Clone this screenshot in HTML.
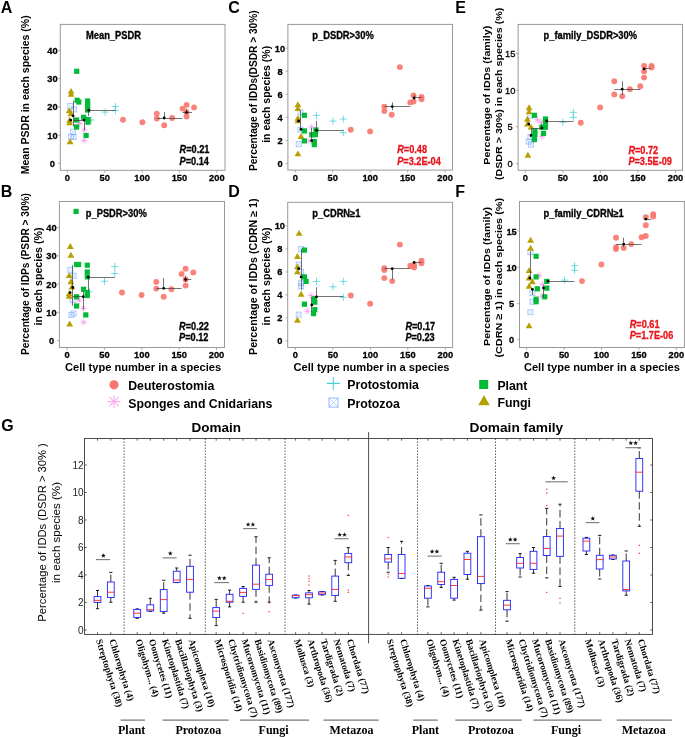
<!DOCTYPE html><html><head><meta charset="utf-8"><style>html,body{margin:0;padding:0;background:#fff;}svg{display:block}</style></head><body>
<svg width="685" height="737" viewBox="0 0 685 737" style="filter:blur(0.3px)">
<rect width="685" height="737" fill="#fff"/>
<text x="0.80" y="12.60" font-family='"Liberation Sans", sans-serif' font-size="16" font-weight="bold" font-style="normal" text-anchor="start" fill="#000">A</text>
<text x="0.80" y="196.80" font-family='"Liberation Sans", sans-serif' font-size="16" font-weight="bold" font-style="normal" text-anchor="start" fill="#000">B</text>
<text x="228.20" y="12.60" font-family='"Liberation Sans", sans-serif' font-size="16" font-weight="bold" font-style="normal" text-anchor="start" fill="#000">C</text>
<text x="228.20" y="196.80" font-family='"Liberation Sans", sans-serif' font-size="16" font-weight="bold" font-style="normal" text-anchor="start" fill="#000">D</text>
<text x="455.20" y="12.60" font-family='"Liberation Sans", sans-serif' font-size="16" font-weight="bold" font-style="normal" text-anchor="start" fill="#000">E</text>
<text x="455.20" y="196.80" font-family='"Liberation Sans", sans-serif' font-size="16" font-weight="bold" font-style="normal" text-anchor="start" fill="#000">F</text>
<text x="1.20" y="431.20" font-family='"Liberation Sans", sans-serif' font-size="16" font-weight="bold" font-style="normal" text-anchor="start" fill="#000">G</text>
<rect x="60.30" y="24.40" width="164.70" height="145.90" fill="none" stroke="#999" stroke-width="1"/>
<line x1="67.40" y1="170.30" x2="67.40" y2="172.80" stroke="#999" stroke-width="0.8"/>
<line x1="104.75" y1="170.30" x2="104.75" y2="172.80" stroke="#999" stroke-width="0.8"/>
<line x1="142.10" y1="170.30" x2="142.10" y2="172.80" stroke="#999" stroke-width="0.8"/>
<line x1="179.45" y1="170.30" x2="179.45" y2="172.80" stroke="#999" stroke-width="0.8"/>
<line x1="216.80" y1="170.30" x2="216.80" y2="172.80" stroke="#999" stroke-width="0.8"/>
<line x1="58.10" y1="163.40" x2="60.30" y2="163.40" stroke="#999" stroke-width="0.8"/>
<line x1="58.10" y1="135.15" x2="60.30" y2="135.15" stroke="#999" stroke-width="0.8"/>
<line x1="58.10" y1="106.90" x2="60.30" y2="106.90" stroke="#999" stroke-width="0.8"/>
<line x1="58.10" y1="78.65" x2="60.30" y2="78.65" stroke="#999" stroke-width="0.8"/>
<line x1="58.10" y1="50.40" x2="60.30" y2="50.40" stroke="#999" stroke-width="0.8"/>
<text transform="translate(52.40,166.90) scale(0.95,1)" font-family='"Liberation Sans", sans-serif' font-size="9.8" font-weight="bold" font-style="normal" text-anchor="middle" fill="#000" stroke="#000" stroke-width="0.3">0</text>
<text transform="translate(52.40,138.65) scale(0.95,1)" font-family='"Liberation Sans", sans-serif' font-size="9.8" font-weight="bold" font-style="normal" text-anchor="middle" fill="#000" stroke="#000" stroke-width="0.3">10</text>
<text transform="translate(52.40,110.40) scale(0.95,1)" font-family='"Liberation Sans", sans-serif' font-size="9.8" font-weight="bold" font-style="normal" text-anchor="middle" fill="#000" stroke="#000" stroke-width="0.3">20</text>
<text transform="translate(52.40,82.15) scale(0.95,1)" font-family='"Liberation Sans", sans-serif' font-size="9.8" font-weight="bold" font-style="normal" text-anchor="middle" fill="#000" stroke="#000" stroke-width="0.3">30</text>
<text transform="translate(52.40,53.90) scale(0.95,1)" font-family='"Liberation Sans", sans-serif' font-size="9.8" font-weight="bold" font-style="normal" text-anchor="middle" fill="#000" stroke="#000" stroke-width="0.3">40</text>
<text transform="translate(67.40,181.30) scale(0.95,1)" font-family='"Liberation Sans", sans-serif' font-size="9.8" font-weight="bold" font-style="normal" text-anchor="middle" fill="#000" stroke="#000" stroke-width="0.3">0</text>
<text transform="translate(104.75,181.30) scale(0.95,1)" font-family='"Liberation Sans", sans-serif' font-size="9.8" font-weight="bold" font-style="normal" text-anchor="middle" fill="#000" stroke="#000" stroke-width="0.3">50</text>
<text transform="translate(142.10,181.30) scale(0.95,1)" font-family='"Liberation Sans", sans-serif' font-size="9.8" font-weight="bold" font-style="normal" text-anchor="middle" fill="#000" stroke="#000" stroke-width="0.3">100</text>
<text transform="translate(179.45,181.30) scale(0.95,1)" font-family='"Liberation Sans", sans-serif' font-size="9.8" font-weight="bold" font-style="normal" text-anchor="middle" fill="#000" stroke="#000" stroke-width="0.3">150</text>
<text transform="translate(216.80,181.30) scale(0.95,1)" font-family='"Liberation Sans", sans-serif' font-size="9.8" font-weight="bold" font-style="normal" text-anchor="middle" fill="#000" stroke="#000" stroke-width="0.3">200</text>
<text transform="translate(86.00,38.80) scale(0.934,1)" font-family='"Liberation Sans", sans-serif' font-size="10" font-weight="bold" font-style="normal" text-anchor="start" fill="#000" stroke="#000" stroke-width="0.3">Mean_PSDR</text>
<g stroke="#619CFF" stroke-opacity="0.55" fill="none" stroke-width="0.9"><rect x="67.80" y="103.50" width="5.0" height="5.0"/><path d="M67.80,103.50L72.80,108.50M72.80,103.50L67.80,108.50" stroke-width="0.54"/></g>
<g stroke="#619CFF" stroke-opacity="0.55" fill="none" stroke-width="0.9"><rect x="71.50" y="107.00" width="5.0" height="5.0"/><path d="M71.50,107.00L76.50,112.00M76.50,107.00L71.50,112.00" stroke-width="0.54"/></g>
<g stroke="#619CFF" stroke-opacity="0.55" fill="none" stroke-width="0.9"><rect x="70.60" y="129.30" width="5.0" height="5.0"/><path d="M70.60,129.30L75.60,134.30M75.60,129.30L70.60,134.30" stroke-width="0.54"/></g>
<g stroke="#619CFF" stroke-opacity="0.55" fill="none" stroke-width="0.9"><rect x="68.50" y="134.10" width="5.0" height="5.0"/><path d="M68.50,134.10L73.50,139.10M73.50,134.10L68.50,139.10" stroke-width="0.54"/></g>
<g stroke="#619CFF" stroke-opacity="0.55" fill="none" stroke-width="0.9"><rect x="71.10" y="134.50" width="5.0" height="5.0"/><path d="M71.10,134.50L76.10,139.50M76.10,134.50L71.10,139.50" stroke-width="0.54"/></g>
<path d="M101.50,112.10H108.70M105.10,108.50V115.70" stroke="#00BFC4" stroke-opacity="0.6" stroke-width="0.9" fill="none"/>
<path d="M111.80,106.40H119.00M115.40,102.80V110.00" stroke="#00BFC4" stroke-opacity="0.6" stroke-width="0.9" fill="none"/>
<path d="M111.80,110.60H119.00M115.40,107.00V114.20" stroke="#00BFC4" stroke-opacity="0.6" stroke-width="0.9" fill="none"/>
<path d="M87.50,120.00H94.70M91.10,116.40V123.60" stroke="#00BFC4" stroke-opacity="0.6" stroke-width="0.9" fill="none"/>
<path d="M76.30,123.50H83.10M79.70,120.10V126.90M77.25,121.05L82.15,125.95M82.15,121.05L77.25,125.95" stroke="#F564E3" stroke-opacity="0.55" stroke-width="0.8" fill="none"/>
<path d="M80.70,130.00H87.50M84.10,126.60V133.40M81.65,127.55L86.55,132.45M86.55,127.55L81.65,132.45" stroke="#F564E3" stroke-opacity="0.55" stroke-width="0.8" fill="none"/>
<path d="M80.70,140.50H87.50M84.10,137.10V143.90M81.65,138.05L86.55,142.95M86.55,138.05L81.65,142.95" stroke="#F564E3" stroke-opacity="0.55" stroke-width="0.8" fill="none"/>
<path d="M71.10,87.95 L74.50,93.87 L67.70,93.87 Z" fill="#B79F00"/>
<path d="M71.10,90.95 L74.50,96.87 L67.70,96.87 Z" fill="#B79F00"/>
<path d="M69.20,107.25 L72.60,113.17 L65.80,113.17 Z" fill="#B79F00"/>
<path d="M71.00,110.25 L74.40,116.17 L67.60,116.17 Z" fill="#B79F00"/>
<path d="M69.60,116.85 L73.00,122.77 L66.20,122.77 Z" fill="#B79F00"/>
<path d="M69.60,119.45 L73.00,125.37 L66.20,125.37 Z" fill="#B79F00"/>
<path d="M70.10,138.35 L73.50,144.27 L66.70,144.27 Z" fill="#B79F00"/>
<rect x="74.10" y="68.70" width="5.2" height="5.2" fill="#00BA38"/>
<rect x="74.50" y="97.70" width="5.2" height="5.2" fill="#00BA38"/>
<rect x="76.20" y="99.40" width="5.2" height="5.2" fill="#00BA38"/>
<rect x="85.00" y="98.40" width="5.2" height="5.2" fill="#00BA38"/>
<rect x="85.00" y="101.40" width="5.2" height="5.2" fill="#00BA38"/>
<rect x="85.00" y="104.40" width="5.2" height="5.2" fill="#00BA38"/>
<rect x="85.00" y="107.40" width="5.2" height="5.2" fill="#00BA38"/>
<rect x="74.00" y="117.40" width="5.2" height="5.2" fill="#00BA38"/>
<rect x="74.00" y="124.40" width="5.2" height="5.2" fill="#00BA38"/>
<rect x="81.10" y="114.70" width="5.2" height="5.2" fill="#00BA38"/>
<rect x="85.40" y="116.90" width="5.2" height="5.2" fill="#00BA38"/>
<rect x="85.40" y="119.60" width="5.2" height="5.2" fill="#00BA38"/>
<rect x="83.50" y="132.90" width="5.2" height="5.2" fill="#00BA38"/>
<circle cx="123.00" cy="119.80" r="2.95" fill="#F8766D" fill-opacity="0.9"/>
<circle cx="142.40" cy="122.20" r="2.95" fill="#F8766D" fill-opacity="0.9"/>
<circle cx="156.80" cy="113.60" r="2.95" fill="#F8766D" fill-opacity="0.9"/>
<circle cx="156.80" cy="118.50" r="2.95" fill="#F8766D" fill-opacity="0.9"/>
<circle cx="164.20" cy="125.20" r="2.95" fill="#F8766D" fill-opacity="0.9"/>
<circle cx="172.20" cy="118.00" r="2.95" fill="#F8766D" fill-opacity="0.9"/>
<circle cx="182.60" cy="108.60" r="2.95" fill="#F8766D" fill-opacity="0.9"/>
<circle cx="186.60" cy="104.90" r="2.95" fill="#F8766D" fill-opacity="0.9"/>
<circle cx="186.60" cy="116.50" r="2.95" fill="#F8766D" fill-opacity="0.9"/>
<circle cx="194.00" cy="107.40" r="2.95" fill="#F8766D" fill-opacity="0.9"/>
<circle cx="186.60" cy="112.30" r="2.95" fill="#F8766D" fill-opacity="0.9"/>
<line x1="88.80" y1="110.50" x2="115.40" y2="110.50" stroke="#444" stroke-width="0.75"/>
<line x1="88.50" y1="110.20" x2="88.50" y2="116.00" stroke="#444" stroke-width="0.75"/>
<line x1="73.50" y1="100.70" x2="73.50" y2="126.50" stroke="#444" stroke-width="0.75"/>
<line x1="73.00" y1="120.50" x2="84.10" y2="120.50" stroke="#444" stroke-width="0.75"/>
<line x1="84.50" y1="120.10" x2="84.50" y2="130.00" stroke="#444" stroke-width="0.75"/>
<line x1="156.80" y1="118.50" x2="182.60" y2="118.50" stroke="#444" stroke-width="0.75"/>
<line x1="164.50" y1="112.30" x2="164.50" y2="118.00" stroke="#444" stroke-width="0.75"/>
<line x1="182.60" y1="112.50" x2="192.00" y2="112.50" stroke="#444" stroke-width="0.75"/>
<line x1="186.50" y1="108.80" x2="186.50" y2="114.00" stroke="#444" stroke-width="0.75"/>
<circle cx="88.80" cy="110.20" r="1.4" fill="#000"/>
<circle cx="73.10" cy="115.80" r="1.4" fill="#000"/>
<circle cx="70.70" cy="120.10" r="1.4" fill="#000"/>
<circle cx="84.10" cy="120.10" r="1.4" fill="#000"/>
<circle cx="164.20" cy="118.00" r="1.4" fill="#000"/>
<circle cx="186.60" cy="112.30" r="1.4" fill="#000"/>
<text transform="translate(179.60,153.00) scale(0.9,1)" font-family='"Liberation Sans", sans-serif' font-size="10.2" font-weight="bold" font-style="normal" text-anchor="start" fill="#000" stroke="#000" stroke-width="0.3"><tspan font-style="italic">R</tspan>=0.21</text>
<text transform="translate(179.60,164.60) scale(0.9,1)" font-family='"Liberation Sans", sans-serif' font-size="10.2" font-weight="bold" font-style="normal" text-anchor="start" fill="#000" stroke="#000" stroke-width="0.3"><tspan font-style="italic">P</tspan>=0.14</text>
<text transform="translate(29.40,94.80) rotate(-90)" font-family='"Liberation Sans", sans-serif' font-size="10.5" font-weight="bold" text-anchor="middle" fill="#000" textLength="159" lengthAdjust="spacingAndGlyphs">Mean PSDR in each species (%)</text>
<rect x="59.40" y="201.50" width="165.10" height="146.00" fill="none" stroke="#999" stroke-width="1"/>
<line x1="67.10" y1="347.50" x2="67.10" y2="350.00" stroke="#999" stroke-width="0.8"/>
<line x1="104.45" y1="347.50" x2="104.45" y2="350.00" stroke="#999" stroke-width="0.8"/>
<line x1="141.80" y1="347.50" x2="141.80" y2="350.00" stroke="#999" stroke-width="0.8"/>
<line x1="179.15" y1="347.50" x2="179.15" y2="350.00" stroke="#999" stroke-width="0.8"/>
<line x1="216.50" y1="347.50" x2="216.50" y2="350.00" stroke="#999" stroke-width="0.8"/>
<line x1="57.20" y1="340.70" x2="59.40" y2="340.70" stroke="#999" stroke-width="0.8"/>
<line x1="57.20" y1="312.40" x2="59.40" y2="312.40" stroke="#999" stroke-width="0.8"/>
<line x1="57.20" y1="284.10" x2="59.40" y2="284.10" stroke="#999" stroke-width="0.8"/>
<line x1="57.20" y1="255.80" x2="59.40" y2="255.80" stroke="#999" stroke-width="0.8"/>
<line x1="57.20" y1="227.50" x2="59.40" y2="227.50" stroke="#999" stroke-width="0.8"/>
<text transform="translate(51.50,344.20) scale(0.95,1)" font-family='"Liberation Sans", sans-serif' font-size="9.8" font-weight="bold" font-style="normal" text-anchor="middle" fill="#000" stroke="#000" stroke-width="0.3">0</text>
<text transform="translate(51.50,315.90) scale(0.95,1)" font-family='"Liberation Sans", sans-serif' font-size="9.8" font-weight="bold" font-style="normal" text-anchor="middle" fill="#000" stroke="#000" stroke-width="0.3">10</text>
<text transform="translate(51.50,287.60) scale(0.95,1)" font-family='"Liberation Sans", sans-serif' font-size="9.8" font-weight="bold" font-style="normal" text-anchor="middle" fill="#000" stroke="#000" stroke-width="0.3">20</text>
<text transform="translate(51.50,259.30) scale(0.95,1)" font-family='"Liberation Sans", sans-serif' font-size="9.8" font-weight="bold" font-style="normal" text-anchor="middle" fill="#000" stroke="#000" stroke-width="0.3">30</text>
<text transform="translate(51.50,231.00) scale(0.95,1)" font-family='"Liberation Sans", sans-serif' font-size="9.8" font-weight="bold" font-style="normal" text-anchor="middle" fill="#000" stroke="#000" stroke-width="0.3">40</text>
<text transform="translate(67.10,358.30) scale(0.95,1)" font-family='"Liberation Sans", sans-serif' font-size="9.8" font-weight="bold" font-style="normal" text-anchor="middle" fill="#000" stroke="#000" stroke-width="0.3">0</text>
<text transform="translate(104.45,358.30) scale(0.95,1)" font-family='"Liberation Sans", sans-serif' font-size="9.8" font-weight="bold" font-style="normal" text-anchor="middle" fill="#000" stroke="#000" stroke-width="0.3">50</text>
<text transform="translate(141.80,358.30) scale(0.95,1)" font-family='"Liberation Sans", sans-serif' font-size="9.8" font-weight="bold" font-style="normal" text-anchor="middle" fill="#000" stroke="#000" stroke-width="0.3">100</text>
<text transform="translate(179.15,358.30) scale(0.95,1)" font-family='"Liberation Sans", sans-serif' font-size="9.8" font-weight="bold" font-style="normal" text-anchor="middle" fill="#000" stroke="#000" stroke-width="0.3">150</text>
<text transform="translate(216.50,358.30) scale(0.95,1)" font-family='"Liberation Sans", sans-serif' font-size="9.8" font-weight="bold" font-style="normal" text-anchor="middle" fill="#000" stroke="#000" stroke-width="0.3">200</text>
<rect x="73.50" y="208.80" width="5.2" height="5.2" fill="#00BA38"/>
<text transform="translate(85.80,216.60) scale(0.934,1)" font-family='"Liberation Sans", sans-serif' font-size="10" font-weight="bold" font-style="normal" text-anchor="start" fill="#000" stroke="#000" stroke-width="0.3">p_PSDR&gt;30%</text>
<g stroke="#619CFF" stroke-opacity="0.55" fill="none" stroke-width="0.9"><rect x="67.80" y="267.30" width="5.0" height="5.0"/><path d="M67.80,267.30L72.80,272.30M72.80,267.30L67.80,272.30" stroke-width="0.54"/></g>
<g stroke="#619CFF" stroke-opacity="0.55" fill="none" stroke-width="0.9"><rect x="71.10" y="273.30" width="5.0" height="5.0"/><path d="M71.10,273.30L76.10,278.30M76.10,273.30L71.10,278.30" stroke-width="0.54"/></g>
<g stroke="#619CFF" stroke-opacity="0.55" fill="none" stroke-width="0.9"><rect x="70.30" y="297.70" width="5.0" height="5.0"/><path d="M70.30,297.70L75.30,302.70M75.30,297.70L70.30,302.70" stroke-width="0.54"/></g>
<g stroke="#619CFF" stroke-opacity="0.55" fill="none" stroke-width="0.9"><rect x="68.90" y="312.40" width="5.0" height="5.0"/><path d="M68.90,312.40L73.90,317.40M73.90,312.40L68.90,317.40" stroke-width="0.54"/></g>
<g stroke="#619CFF" stroke-opacity="0.55" fill="none" stroke-width="0.9"><rect x="71.10" y="311.00" width="5.0" height="5.0"/><path d="M71.10,311.00L76.10,316.00M76.10,311.00L71.10,316.00" stroke-width="0.54"/></g>
<path d="M111.20,266.60H118.40M114.80,263.00V270.20" stroke="#00BFC4" stroke-opacity="0.6" stroke-width="0.9" fill="none"/>
<path d="M111.20,273.60H118.40M114.80,270.00V277.20" stroke="#00BFC4" stroke-opacity="0.6" stroke-width="0.9" fill="none"/>
<path d="M100.90,281.20H108.10M104.50,277.60V284.80" stroke="#00BFC4" stroke-opacity="0.6" stroke-width="0.9" fill="none"/>
<path d="M85.70,291.90H92.90M89.30,288.30V295.50" stroke="#00BFC4" stroke-opacity="0.6" stroke-width="0.9" fill="none"/>
<path d="M75.90,300.20H82.70M79.30,296.80V303.60M76.85,297.75L81.75,302.65M81.75,297.75L76.85,302.65" stroke="#F564E3" stroke-opacity="0.55" stroke-width="0.8" fill="none"/>
<path d="M79.90,308.40H86.70M83.30,305.00V311.80M80.85,305.95L85.75,310.85M85.75,305.95L80.85,310.85" stroke="#F564E3" stroke-opacity="0.55" stroke-width="0.8" fill="none"/>
<path d="M80.20,322.30H87.00M83.60,318.90V325.70M81.15,319.85L86.05,324.75M86.05,319.85L81.15,324.75" stroke="#F564E3" stroke-opacity="0.55" stroke-width="0.8" fill="none"/>
<path d="M70.30,243.05 L73.70,248.97 L66.90,248.97 Z" fill="#B79F00"/>
<path d="M70.90,251.75 L74.30,257.67 L67.50,257.67 Z" fill="#B79F00"/>
<path d="M69.20,272.15 L72.60,278.07 L65.80,278.07 Z" fill="#B79F00"/>
<path d="M70.90,278.35 L74.30,284.27 L67.50,284.27 Z" fill="#B79F00"/>
<path d="M71.90,283.65 L75.30,289.57 L68.50,289.57 Z" fill="#B79F00"/>
<path d="M69.20,290.25 L72.60,296.17 L65.80,296.17 Z" fill="#B79F00"/>
<path d="M69.20,292.75 L72.60,298.67 L65.80,298.67 Z" fill="#B79F00"/>
<path d="M69.70,320.55 L73.10,326.47 L66.30,326.47 Z" fill="#B79F00"/>
<rect x="74.00" y="261.90" width="5.2" height="5.2" fill="#00BA38"/>
<rect x="76.00" y="261.90" width="5.2" height="5.2" fill="#00BA38"/>
<rect x="84.70" y="262.60" width="5.2" height="5.2" fill="#00BA38"/>
<rect x="84.70" y="269.40" width="5.2" height="5.2" fill="#00BA38"/>
<rect x="84.70" y="274.30" width="5.2" height="5.2" fill="#00BA38"/>
<rect x="81.00" y="286.70" width="5.2" height="5.2" fill="#00BA38"/>
<rect x="84.70" y="289.90" width="5.2" height="5.2" fill="#00BA38"/>
<rect x="84.70" y="292.90" width="5.2" height="5.2" fill="#00BA38"/>
<rect x="74.00" y="294.20" width="5.2" height="5.2" fill="#00BA38"/>
<rect x="74.00" y="303.40" width="5.2" height="5.2" fill="#00BA38"/>
<rect x="83.20" y="312.30" width="5.2" height="5.2" fill="#00BA38"/>
<circle cx="122.00" cy="292.50" r="2.95" fill="#F8766D" fill-opacity="0.9"/>
<circle cx="141.60" cy="295.00" r="2.95" fill="#F8766D" fill-opacity="0.9"/>
<circle cx="156.30" cy="281.90" r="2.95" fill="#F8766D" fill-opacity="0.9"/>
<circle cx="156.30" cy="288.60" r="2.95" fill="#F8766D" fill-opacity="0.9"/>
<circle cx="163.70" cy="296.80" r="2.95" fill="#F8766D" fill-opacity="0.9"/>
<circle cx="171.40" cy="289.30" r="2.95" fill="#F8766D" fill-opacity="0.9"/>
<circle cx="181.60" cy="273.90" r="2.95" fill="#F8766D" fill-opacity="0.9"/>
<circle cx="185.60" cy="268.70" r="2.95" fill="#F8766D" fill-opacity="0.9"/>
<circle cx="185.60" cy="285.60" r="2.95" fill="#F8766D" fill-opacity="0.9"/>
<circle cx="193.30" cy="272.40" r="2.95" fill="#F8766D" fill-opacity="0.9"/>
<circle cx="185.60" cy="279.40" r="2.95" fill="#F8766D" fill-opacity="0.9"/>
<line x1="72.50" y1="265.00" x2="72.50" y2="305.70" stroke="#444" stroke-width="0.75"/>
<line x1="88.50" y1="277.10" x2="88.50" y2="291.00" stroke="#444" stroke-width="0.75"/>
<line x1="83.50" y1="291.00" x2="83.50" y2="309.50" stroke="#444" stroke-width="0.75"/>
<line x1="88.20" y1="277.50" x2="114.80" y2="277.50" stroke="#444" stroke-width="0.75"/>
<line x1="72.80" y1="296.50" x2="83.30" y2="296.50" stroke="#444" stroke-width="0.75"/>
<line x1="156.30" y1="288.50" x2="181.60" y2="288.50" stroke="#444" stroke-width="0.75"/>
<line x1="163.50" y1="278.10" x2="163.50" y2="288.30" stroke="#444" stroke-width="0.75"/>
<line x1="185.60" y1="279.50" x2="191.30" y2="279.50" stroke="#444" stroke-width="0.75"/>
<line x1="185.50" y1="275.70" x2="185.50" y2="281.90" stroke="#444" stroke-width="0.75"/>
<circle cx="88.20" cy="277.10" r="1.4" fill="#000"/>
<circle cx="72.80" cy="287.50" r="1.4" fill="#000"/>
<circle cx="70.10" cy="292.60" r="1.4" fill="#000"/>
<circle cx="83.30" cy="296.70" r="1.4" fill="#000"/>
<circle cx="163.70" cy="288.30" r="1.4" fill="#000"/>
<circle cx="185.60" cy="279.40" r="1.4" fill="#000"/>
<text transform="translate(179.10,330.00) scale(0.9,1)" font-family='"Liberation Sans", sans-serif' font-size="10.2" font-weight="bold" font-style="normal" text-anchor="start" fill="#000" stroke="#000" stroke-width="0.3"><tspan font-style="italic">R</tspan>=0.22</text>
<text transform="translate(179.10,341.20) scale(0.9,1)" font-family='"Liberation Sans", sans-serif' font-size="10.2" font-weight="bold" font-style="normal" text-anchor="start" fill="#000" stroke="#000" stroke-width="0.3"><tspan font-style="italic">P</tspan>=0.12</text>
<text transform="translate(29.40,274.00) rotate(-90)" font-family='"Liberation Sans", sans-serif' font-size="10.5" font-weight="bold" text-anchor="middle" fill="#000" textLength="162" lengthAdjust="spacingAndGlyphs">Percentage of IDPs (PSDR &gt; 30%)</text>
<text transform="translate(42.00,276.50) rotate(-90)" font-family='"Liberation Sans", sans-serif' font-size="10.5" font-weight="bold" text-anchor="middle" fill="#000" textLength="98" lengthAdjust="spacingAndGlyphs">in each species (%)</text>
<text x="143.10" y="371.00" font-family='"Liberation Sans", sans-serif' font-size="11.1" font-weight="bold" font-style="normal" text-anchor="middle" fill="#000">Cell type number in a species</text>
<rect x="287.90" y="24.40" width="164.60" height="145.70" fill="none" stroke="#999" stroke-width="1"/>
<line x1="295.30" y1="170.10" x2="295.30" y2="172.60" stroke="#999" stroke-width="0.8"/>
<line x1="332.75" y1="170.10" x2="332.75" y2="172.60" stroke="#999" stroke-width="0.8"/>
<line x1="370.20" y1="170.10" x2="370.20" y2="172.60" stroke="#999" stroke-width="0.8"/>
<line x1="407.65" y1="170.10" x2="407.65" y2="172.60" stroke="#999" stroke-width="0.8"/>
<line x1="445.10" y1="170.10" x2="445.10" y2="172.60" stroke="#999" stroke-width="0.8"/>
<line x1="285.70" y1="163.40" x2="287.90" y2="163.40" stroke="#999" stroke-width="0.8"/>
<line x1="285.70" y1="140.36" x2="287.90" y2="140.36" stroke="#999" stroke-width="0.8"/>
<line x1="285.70" y1="117.32" x2="287.90" y2="117.32" stroke="#999" stroke-width="0.8"/>
<line x1="285.70" y1="94.28" x2="287.90" y2="94.28" stroke="#999" stroke-width="0.8"/>
<line x1="285.70" y1="71.24" x2="287.90" y2="71.24" stroke="#999" stroke-width="0.8"/>
<line x1="285.70" y1="48.20" x2="287.90" y2="48.20" stroke="#999" stroke-width="0.8"/>
<text transform="translate(280.00,166.90) scale(0.95,1)" font-family='"Liberation Sans", sans-serif' font-size="9.8" font-weight="bold" font-style="normal" text-anchor="middle" fill="#000" stroke="#000" stroke-width="0.3">0</text>
<text transform="translate(280.00,143.86) scale(0.95,1)" font-family='"Liberation Sans", sans-serif' font-size="9.8" font-weight="bold" font-style="normal" text-anchor="middle" fill="#000" stroke="#000" stroke-width="0.3">2</text>
<text transform="translate(280.00,120.82) scale(0.95,1)" font-family='"Liberation Sans", sans-serif' font-size="9.8" font-weight="bold" font-style="normal" text-anchor="middle" fill="#000" stroke="#000" stroke-width="0.3">4</text>
<text transform="translate(280.00,97.78) scale(0.95,1)" font-family='"Liberation Sans", sans-serif' font-size="9.8" font-weight="bold" font-style="normal" text-anchor="middle" fill="#000" stroke="#000" stroke-width="0.3">6</text>
<text transform="translate(280.00,74.74) scale(0.95,1)" font-family='"Liberation Sans", sans-serif' font-size="9.8" font-weight="bold" font-style="normal" text-anchor="middle" fill="#000" stroke="#000" stroke-width="0.3">8</text>
<text transform="translate(280.00,51.70) scale(0.95,1)" font-family='"Liberation Sans", sans-serif' font-size="9.8" font-weight="bold" font-style="normal" text-anchor="middle" fill="#000" stroke="#000" stroke-width="0.3">10</text>
<text transform="translate(295.30,181.30) scale(0.95,1)" font-family='"Liberation Sans", sans-serif' font-size="9.8" font-weight="bold" font-style="normal" text-anchor="middle" fill="#000" stroke="#000" stroke-width="0.3">0</text>
<text transform="translate(332.75,181.30) scale(0.95,1)" font-family='"Liberation Sans", sans-serif' font-size="9.8" font-weight="bold" font-style="normal" text-anchor="middle" fill="#000" stroke="#000" stroke-width="0.3">50</text>
<text transform="translate(370.20,181.30) scale(0.95,1)" font-family='"Liberation Sans", sans-serif' font-size="9.8" font-weight="bold" font-style="normal" text-anchor="middle" fill="#000" stroke="#000" stroke-width="0.3">100</text>
<text transform="translate(407.65,181.30) scale(0.95,1)" font-family='"Liberation Sans", sans-serif' font-size="9.8" font-weight="bold" font-style="normal" text-anchor="middle" fill="#000" stroke="#000" stroke-width="0.3">150</text>
<text transform="translate(445.10,181.30) scale(0.95,1)" font-family='"Liberation Sans", sans-serif' font-size="9.8" font-weight="bold" font-style="normal" text-anchor="middle" fill="#000" stroke="#000" stroke-width="0.3">200</text>
<text transform="translate(312.30,39.30) scale(0.934,1)" font-family='"Liberation Sans", sans-serif' font-size="10" font-weight="bold" font-style="normal" text-anchor="start" fill="#000" stroke="#000" stroke-width="0.3">p_DSDR&gt;30%</text>
<g stroke="#619CFF" stroke-opacity="0.55" fill="none" stroke-width="0.9"><rect x="297.90" y="109.80" width="5.0" height="5.0"/><path d="M297.90,109.80L302.90,114.80M302.90,109.80L297.90,114.80" stroke-width="0.54"/></g>
<g stroke="#619CFF" stroke-opacity="0.55" fill="none" stroke-width="0.9"><rect x="297.90" y="127.20" width="5.0" height="5.0"/><path d="M297.90,127.20L302.90,132.20M302.90,127.20L297.90,132.20" stroke-width="0.54"/></g>
<g stroke="#619CFF" stroke-opacity="0.55" fill="none" stroke-width="0.9"><rect x="296.20" y="141.60" width="5.0" height="5.0"/><path d="M296.20,141.60L301.20,146.60M301.20,141.60L296.20,146.60" stroke-width="0.54"/></g>
<path d="M312.90,115.30H320.10M316.50,111.70V118.90" stroke="#00BFC4" stroke-opacity="0.6" stroke-width="0.9" fill="none"/>
<path d="M329.30,121.00H336.50M332.90,117.40V124.60" stroke="#00BFC4" stroke-opacity="0.6" stroke-width="0.9" fill="none"/>
<path d="M339.70,119.00H346.90M343.30,115.40V122.60" stroke="#00BFC4" stroke-opacity="0.6" stroke-width="0.9" fill="none"/>
<path d="M339.70,132.70H346.90M343.30,129.10V136.30" stroke="#00BFC4" stroke-opacity="0.6" stroke-width="0.9" fill="none"/>
<path d="M308.20,127.20H315.00M311.60,123.80V130.60M309.15,124.75L314.05,129.65M314.05,124.75L309.15,129.65" stroke="#F564E3" stroke-opacity="0.55" stroke-width="0.8" fill="none"/>
<path d="M305.60,140.90H312.40M309.00,137.50V144.30M306.55,138.45L311.45,143.35M311.45,138.45L306.55,143.35" stroke="#F564E3" stroke-opacity="0.55" stroke-width="0.8" fill="none"/>
<path d="M297.90,101.35 L301.30,107.27 L294.50,107.27 Z" fill="#B79F00"/>
<path d="M297.90,105.05 L301.30,110.97 L294.50,110.97 Z" fill="#B79F00"/>
<path d="M297.90,114.95 L301.30,120.87 L294.50,120.87 Z" fill="#B79F00"/>
<path d="M297.90,117.45 L301.30,123.37 L294.50,123.37 Z" fill="#B79F00"/>
<path d="M301.10,133.05 L304.50,138.97 L297.70,138.97 Z" fill="#B79F00"/>
<path d="M297.90,150.45 L301.30,156.37 L294.50,156.37 Z" fill="#B79F00"/>
<rect x="301.80" y="112.70" width="5.2" height="5.2" fill="#00BA38"/>
<rect x="301.80" y="128.30" width="5.2" height="5.2" fill="#00BA38"/>
<rect x="301.80" y="138.30" width="5.2" height="5.2" fill="#00BA38"/>
<rect x="309.20" y="132.10" width="5.2" height="5.2" fill="#00BA38"/>
<rect x="312.90" y="132.10" width="5.2" height="5.2" fill="#00BA38"/>
<rect x="311.70" y="139.00" width="5.2" height="5.2" fill="#00BA38"/>
<rect x="311.70" y="142.00" width="5.2" height="5.2" fill="#00BA38"/>
<rect x="313.40" y="127.40" width="5.2" height="5.2" fill="#00BA38"/>
<circle cx="399.90" cy="67.10" r="2.95" fill="#F8766D" fill-opacity="0.9"/>
<circle cx="384.30" cy="106.60" r="2.95" fill="#F8766D" fill-opacity="0.9"/>
<circle cx="384.30" cy="111.10" r="2.95" fill="#F8766D" fill-opacity="0.9"/>
<circle cx="391.70" cy="114.80" r="2.95" fill="#F8766D" fill-opacity="0.9"/>
<circle cx="410.30" cy="102.40" r="2.95" fill="#F8766D" fill-opacity="0.9"/>
<circle cx="413.60" cy="95.40" r="2.95" fill="#F8766D" fill-opacity="0.9"/>
<circle cx="413.60" cy="101.60" r="2.95" fill="#F8766D" fill-opacity="0.9"/>
<circle cx="421.50" cy="96.90" r="2.95" fill="#F8766D" fill-opacity="0.9"/>
<circle cx="421.50" cy="99.20" r="2.95" fill="#F8766D" fill-opacity="0.9"/>
<circle cx="350.80" cy="129.70" r="2.95" fill="#F8766D" fill-opacity="0.9"/>
<circle cx="370.10" cy="131.40" r="2.95" fill="#F8766D" fill-opacity="0.9"/>
<line x1="316.50" y1="130.50" x2="343.30" y2="130.50" stroke="#444" stroke-width="0.75"/>
<line x1="316.50" y1="121.00" x2="316.50" y2="130.40" stroke="#444" stroke-width="0.75"/>
<line x1="384.30" y1="106.50" x2="410.30" y2="106.50" stroke="#444" stroke-width="0.75"/>
<line x1="392.50" y1="102.40" x2="392.50" y2="110.30" stroke="#444" stroke-width="0.75"/>
<line x1="414.10" y1="97.50" x2="421.50" y2="97.50" stroke="#444" stroke-width="0.75"/>
<line x1="414.50" y1="95.00" x2="414.50" y2="100.00" stroke="#444" stroke-width="0.75"/>
<line x1="300.50" y1="111.00" x2="300.50" y2="130.00" stroke="#444" stroke-width="0.75"/>
<line x1="311.50" y1="128.00" x2="311.50" y2="141.00" stroke="#444" stroke-width="0.75"/>
<circle cx="298.60" cy="121.00" r="1.4" fill="#000"/>
<circle cx="301.00" cy="129.40" r="1.4" fill="#000"/>
<circle cx="311.60" cy="140.70" r="1.4" fill="#000"/>
<circle cx="316.50" cy="130.30" r="1.4" fill="#000"/>
<circle cx="392.20" cy="106.60" r="1.4" fill="#000"/>
<circle cx="414.10" cy="97.90" r="1.4" fill="#000"/>
<text transform="translate(397.20,153.00) scale(0.9,1)" font-family='"Liberation Sans", sans-serif' font-size="10.2" font-weight="bold" font-style="normal" text-anchor="start" fill="#e8141c" stroke="#e8141c" stroke-width="0.3"><tspan font-style="italic">R</tspan>=0.48</text>
<text transform="translate(397.20,164.60) scale(0.9,1)" font-family='"Liberation Sans", sans-serif' font-size="10.2" font-weight="bold" font-style="normal" text-anchor="start" fill="#e8141c" stroke="#e8141c" stroke-width="0.3"><tspan font-style="italic">P</tspan>=3.2E-04</text>
<text transform="translate(257.40,90.70) rotate(-90)" font-family='"Liberation Sans", sans-serif' font-size="10.5" font-weight="bold" text-anchor="middle" fill="#000" textLength="160.8" lengthAdjust="spacingAndGlyphs">Percentage of IDDs(DSDR &gt; 30%)</text>
<text transform="translate(270.00,94.30) rotate(-90)" font-family='"Liberation Sans", sans-serif' font-size="10.5" font-weight="bold" text-anchor="middle" fill="#000" textLength="97" lengthAdjust="spacingAndGlyphs">in each species (%)</text>
<rect x="287.70" y="202.30" width="164.90" height="145.20" fill="none" stroke="#999" stroke-width="1"/>
<line x1="295.40" y1="347.50" x2="295.40" y2="350.00" stroke="#999" stroke-width="0.8"/>
<line x1="332.88" y1="347.50" x2="332.88" y2="350.00" stroke="#999" stroke-width="0.8"/>
<line x1="370.35" y1="347.50" x2="370.35" y2="350.00" stroke="#999" stroke-width="0.8"/>
<line x1="407.82" y1="347.50" x2="407.82" y2="350.00" stroke="#999" stroke-width="0.8"/>
<line x1="445.30" y1="347.50" x2="445.30" y2="350.00" stroke="#999" stroke-width="0.8"/>
<line x1="285.50" y1="340.90" x2="287.70" y2="340.90" stroke="#999" stroke-width="0.8"/>
<line x1="285.50" y1="317.90" x2="287.70" y2="317.90" stroke="#999" stroke-width="0.8"/>
<line x1="285.50" y1="294.90" x2="287.70" y2="294.90" stroke="#999" stroke-width="0.8"/>
<line x1="285.50" y1="271.90" x2="287.70" y2="271.90" stroke="#999" stroke-width="0.8"/>
<line x1="285.50" y1="248.90" x2="287.70" y2="248.90" stroke="#999" stroke-width="0.8"/>
<line x1="285.50" y1="225.90" x2="287.70" y2="225.90" stroke="#999" stroke-width="0.8"/>
<text transform="translate(279.80,344.40) scale(0.95,1)" font-family='"Liberation Sans", sans-serif' font-size="9.8" font-weight="bold" font-style="normal" text-anchor="middle" fill="#000" stroke="#000" stroke-width="0.3">0</text>
<text transform="translate(279.80,321.40) scale(0.95,1)" font-family='"Liberation Sans", sans-serif' font-size="9.8" font-weight="bold" font-style="normal" text-anchor="middle" fill="#000" stroke="#000" stroke-width="0.3">2</text>
<text transform="translate(279.80,298.40) scale(0.95,1)" font-family='"Liberation Sans", sans-serif' font-size="9.8" font-weight="bold" font-style="normal" text-anchor="middle" fill="#000" stroke="#000" stroke-width="0.3">4</text>
<text transform="translate(279.80,275.40) scale(0.95,1)" font-family='"Liberation Sans", sans-serif' font-size="9.8" font-weight="bold" font-style="normal" text-anchor="middle" fill="#000" stroke="#000" stroke-width="0.3">6</text>
<text transform="translate(279.80,252.40) scale(0.95,1)" font-family='"Liberation Sans", sans-serif' font-size="9.8" font-weight="bold" font-style="normal" text-anchor="middle" fill="#000" stroke="#000" stroke-width="0.3">8</text>
<text transform="translate(279.80,229.40) scale(0.95,1)" font-family='"Liberation Sans", sans-serif' font-size="9.8" font-weight="bold" font-style="normal" text-anchor="middle" fill="#000" stroke="#000" stroke-width="0.3">10</text>
<text transform="translate(295.40,358.30) scale(0.95,1)" font-family='"Liberation Sans", sans-serif' font-size="9.8" font-weight="bold" font-style="normal" text-anchor="middle" fill="#000" stroke="#000" stroke-width="0.3">0</text>
<text transform="translate(332.88,358.30) scale(0.95,1)" font-family='"Liberation Sans", sans-serif' font-size="9.8" font-weight="bold" font-style="normal" text-anchor="middle" fill="#000" stroke="#000" stroke-width="0.3">50</text>
<text transform="translate(370.35,358.30) scale(0.95,1)" font-family='"Liberation Sans", sans-serif' font-size="9.8" font-weight="bold" font-style="normal" text-anchor="middle" fill="#000" stroke="#000" stroke-width="0.3">100</text>
<text transform="translate(407.82,358.30) scale(0.95,1)" font-family='"Liberation Sans", sans-serif' font-size="9.8" font-weight="bold" font-style="normal" text-anchor="middle" fill="#000" stroke="#000" stroke-width="0.3">150</text>
<text transform="translate(445.30,358.30) scale(0.95,1)" font-family='"Liberation Sans", sans-serif' font-size="9.8" font-weight="bold" font-style="normal" text-anchor="middle" fill="#000" stroke="#000" stroke-width="0.3">200</text>
<text transform="translate(312.30,217.00) scale(0.934,1)" font-family='"Liberation Sans", sans-serif' font-size="10" font-weight="bold" font-style="normal" text-anchor="start" fill="#000" stroke="#000" stroke-width="0.3">p_CDRN≥1</text>
<g stroke="#619CFF" stroke-opacity="0.55" fill="none" stroke-width="0.9"><rect x="298.60" y="246.60" width="5.0" height="5.0"/><path d="M298.60,246.60L303.60,251.60M303.60,246.60L298.60,251.60" stroke-width="0.54"/></g>
<g stroke="#619CFF" stroke-opacity="0.55" fill="none" stroke-width="0.9"><rect x="296.20" y="262.00" width="5.0" height="5.0"/><path d="M296.20,262.00L301.20,267.00M301.20,262.00L296.20,267.00" stroke-width="0.54"/></g>
<g stroke="#619CFF" stroke-opacity="0.55" fill="none" stroke-width="0.9"><rect x="298.60" y="269.50" width="5.0" height="5.0"/><path d="M298.60,269.50L303.60,274.50M303.60,269.50L298.60,274.50" stroke-width="0.54"/></g>
<g stroke="#619CFF" stroke-opacity="0.55" fill="none" stroke-width="0.9"><rect x="298.60" y="280.60" width="5.0" height="5.0"/><path d="M298.60,280.60L303.60,285.60M303.60,280.60L298.60,285.60" stroke-width="0.54"/></g>
<g stroke="#619CFF" stroke-opacity="0.55" fill="none" stroke-width="0.9"><rect x="298.60" y="283.80" width="5.0" height="5.0"/><path d="M298.60,283.80L303.60,288.80M303.60,283.80L298.60,288.80" stroke-width="0.54"/></g>
<g stroke="#619CFF" stroke-opacity="0.55" fill="none" stroke-width="0.9"><rect x="296.20" y="312.10" width="5.0" height="5.0"/><path d="M296.20,312.10L301.20,317.10M301.20,312.10L296.20,317.10" stroke-width="0.54"/></g>
<path d="M312.90,281.40H320.10M316.50,277.80V285.00" stroke="#00BFC4" stroke-opacity="0.6" stroke-width="0.9" fill="none"/>
<path d="M329.30,286.80H336.50M332.90,283.20V290.40" stroke="#00BFC4" stroke-opacity="0.6" stroke-width="0.9" fill="none"/>
<path d="M339.70,281.40H346.90M343.30,277.80V285.00" stroke="#00BFC4" stroke-opacity="0.6" stroke-width="0.9" fill="none"/>
<path d="M339.70,297.30H346.90M343.30,293.70V300.90" stroke="#00BFC4" stroke-opacity="0.6" stroke-width="0.9" fill="none"/>
<path d="M307.70,295.50H314.50M311.10,292.10V298.90M308.65,293.05L313.55,297.95M313.55,293.05L308.65,297.95" stroke="#F564E3" stroke-opacity="0.55" stroke-width="0.8" fill="none"/>
<path d="M303.90,311.20H310.70M307.30,307.80V314.60M304.85,308.75L309.75,313.65M309.75,308.75L304.85,313.65" stroke="#F564E3" stroke-opacity="0.55" stroke-width="0.8" fill="none"/>
<path d="M299.10,229.95 L302.50,235.87 L295.70,235.87 Z" fill="#B79F00"/>
<path d="M297.40,253.05 L300.80,258.97 L294.00,258.97 Z" fill="#B79F00"/>
<path d="M297.40,263.45 L300.80,269.37 L294.00,269.37 Z" fill="#B79F00"/>
<path d="M297.40,268.45 L300.80,274.37 L294.00,274.37 Z" fill="#B79F00"/>
<path d="M301.10,290.75 L304.50,296.67 L297.70,296.67 Z" fill="#B79F00"/>
<path d="M297.40,316.75 L300.80,322.67 L294.00,322.67 Z" fill="#B79F00"/>
<rect x="301.80" y="247.50" width="5.2" height="5.2" fill="#00BA38"/>
<rect x="301.80" y="274.30" width="5.2" height="5.2" fill="#00BA38"/>
<rect x="303.50" y="278.80" width="5.2" height="5.2" fill="#00BA38"/>
<rect x="301.80" y="301.60" width="5.2" height="5.2" fill="#00BA38"/>
<rect x="311.70" y="296.10" width="5.2" height="5.2" fill="#00BA38"/>
<rect x="312.20" y="299.60" width="5.2" height="5.2" fill="#00BA38"/>
<rect x="312.20" y="307.10" width="5.2" height="5.2" fill="#00BA38"/>
<rect x="310.90" y="311.00" width="5.2" height="5.2" fill="#00BA38"/>
<circle cx="399.90" cy="244.60" r="2.95" fill="#F8766D" fill-opacity="0.9"/>
<circle cx="384.30" cy="268.20" r="2.95" fill="#F8766D" fill-opacity="0.9"/>
<circle cx="384.30" cy="270.00" r="2.95" fill="#F8766D" fill-opacity="0.9"/>
<circle cx="384.30" cy="278.10" r="2.95" fill="#F8766D" fill-opacity="0.9"/>
<circle cx="392.20" cy="281.10" r="2.95" fill="#F8766D" fill-opacity="0.9"/>
<circle cx="410.30" cy="265.70" r="2.95" fill="#F8766D" fill-opacity="0.9"/>
<circle cx="414.10" cy="267.50" r="2.95" fill="#F8766D" fill-opacity="0.9"/>
<circle cx="414.10" cy="265.00" r="2.95" fill="#F8766D" fill-opacity="0.9"/>
<circle cx="421.50" cy="260.80" r="2.95" fill="#F8766D" fill-opacity="0.9"/>
<circle cx="421.50" cy="263.30" r="2.95" fill="#F8766D" fill-opacity="0.9"/>
<circle cx="350.80" cy="295.50" r="2.95" fill="#F8766D" fill-opacity="0.9"/>
<circle cx="370.10" cy="303.70" r="2.95" fill="#F8766D" fill-opacity="0.9"/>
<line x1="301.50" y1="249.00" x2="301.50" y2="290.00" stroke="#444" stroke-width="0.75"/>
<line x1="311.50" y1="297.00" x2="311.50" y2="312.00" stroke="#444" stroke-width="0.75"/>
<line x1="316.50" y1="296.50" x2="343.30" y2="296.50" stroke="#444" stroke-width="0.75"/>
<line x1="316.50" y1="287.30" x2="316.50" y2="296.80" stroke="#444" stroke-width="0.75"/>
<line x1="384.30" y1="268.50" x2="410.30" y2="268.50" stroke="#444" stroke-width="0.75"/>
<line x1="392.50" y1="268.70" x2="392.50" y2="279.40" stroke="#444" stroke-width="0.75"/>
<line x1="414.10" y1="262.50" x2="421.50" y2="262.50" stroke="#444" stroke-width="0.75"/>
<circle cx="298.70" cy="268.70" r="1.4" fill="#000"/>
<circle cx="301.10" cy="276.90" r="1.4" fill="#000"/>
<circle cx="311.80" cy="305.00" r="1.4" fill="#000"/>
<circle cx="316.50" cy="296.80" r="1.4" fill="#000"/>
<circle cx="392.20" cy="268.70" r="1.4" fill="#000"/>
<circle cx="414.10" cy="262.50" r="1.4" fill="#000"/>
<text transform="translate(405.40,330.00) scale(0.9,1)" font-family='"Liberation Sans", sans-serif' font-size="10.2" font-weight="bold" font-style="normal" text-anchor="start" fill="#000" stroke="#000" stroke-width="0.3"><tspan font-style="italic">R</tspan>=0.17</text>
<text transform="translate(405.40,341.20) scale(0.9,1)" font-family='"Liberation Sans", sans-serif' font-size="10.2" font-weight="bold" font-style="normal" text-anchor="start" fill="#000" stroke="#000" stroke-width="0.3"><tspan font-style="italic">P</tspan>=0.23</text>
<text transform="translate(257.40,276.70) rotate(-90)" font-family='"Liberation Sans", sans-serif' font-size="10.5" font-weight="bold" text-anchor="middle" fill="#000" textLength="156.5" lengthAdjust="spacingAndGlyphs">Percentage of IDDs (CDRN ≥ 1)</text>
<text transform="translate(270.00,276.50) rotate(-90)" font-family='"Liberation Sans", sans-serif' font-size="10.5" font-weight="bold" text-anchor="middle" fill="#000" textLength="98" lengthAdjust="spacingAndGlyphs">in each species (%)</text>
<text x="371.50" y="371.00" font-family='"Liberation Sans", sans-serif' font-size="11.1" font-weight="bold" font-style="normal" text-anchor="middle" fill="#000">Cell type number in a species</text>
<rect x="518.10" y="24.40" width="164.40" height="145.90" fill="none" stroke="#999" stroke-width="1"/>
<line x1="525.30" y1="170.30" x2="525.30" y2="172.80" stroke="#999" stroke-width="0.8"/>
<line x1="562.85" y1="170.30" x2="562.85" y2="172.80" stroke="#999" stroke-width="0.8"/>
<line x1="600.40" y1="170.30" x2="600.40" y2="172.80" stroke="#999" stroke-width="0.8"/>
<line x1="637.95" y1="170.30" x2="637.95" y2="172.80" stroke="#999" stroke-width="0.8"/>
<line x1="675.50" y1="170.30" x2="675.50" y2="172.80" stroke="#999" stroke-width="0.8"/>
<line x1="515.90" y1="163.50" x2="518.10" y2="163.50" stroke="#999" stroke-width="0.8"/>
<line x1="515.90" y1="126.80" x2="518.10" y2="126.80" stroke="#999" stroke-width="0.8"/>
<line x1="515.90" y1="90.20" x2="518.10" y2="90.20" stroke="#999" stroke-width="0.8"/>
<line x1="515.90" y1="53.50" x2="518.10" y2="53.50" stroke="#999" stroke-width="0.8"/>
<text transform="translate(510.20,167.00) scale(0.95,1)" font-family='"Liberation Sans", sans-serif' font-size="9.8" font-weight="normal" font-style="normal" text-anchor="middle" fill="#000" stroke="#000" stroke-width="0.3">0</text>
<text transform="translate(510.20,130.30) scale(0.95,1)" font-family='"Liberation Sans", sans-serif' font-size="9.8" font-weight="normal" font-style="normal" text-anchor="middle" fill="#000" stroke="#000" stroke-width="0.3">5</text>
<text transform="translate(510.20,93.70) scale(0.95,1)" font-family='"Liberation Sans", sans-serif' font-size="9.8" font-weight="normal" font-style="normal" text-anchor="middle" fill="#000" stroke="#000" stroke-width="0.3">10</text>
<text transform="translate(510.20,57.00) scale(0.95,1)" font-family='"Liberation Sans", sans-serif' font-size="9.8" font-weight="normal" font-style="normal" text-anchor="middle" fill="#000" stroke="#000" stroke-width="0.3">15</text>
<text transform="translate(525.30,181.30) scale(0.95,1)" font-family='"Liberation Sans", sans-serif' font-size="9.8" font-weight="bold" font-style="normal" text-anchor="middle" fill="#000" stroke="#000" stroke-width="0.3">0</text>
<text transform="translate(562.85,181.30) scale(0.95,1)" font-family='"Liberation Sans", sans-serif' font-size="9.8" font-weight="bold" font-style="normal" text-anchor="middle" fill="#000" stroke="#000" stroke-width="0.3">50</text>
<text transform="translate(600.40,181.30) scale(0.95,1)" font-family='"Liberation Sans", sans-serif' font-size="9.8" font-weight="bold" font-style="normal" text-anchor="middle" fill="#000" stroke="#000" stroke-width="0.3">100</text>
<text transform="translate(637.95,181.30) scale(0.95,1)" font-family='"Liberation Sans", sans-serif' font-size="9.8" font-weight="bold" font-style="normal" text-anchor="middle" fill="#000" stroke="#000" stroke-width="0.3">150</text>
<text transform="translate(675.50,181.30) scale(0.95,1)" font-family='"Liberation Sans", sans-serif' font-size="9.8" font-weight="bold" font-style="normal" text-anchor="middle" fill="#000" stroke="#000" stroke-width="0.3">200</text>
<text transform="translate(543.50,39.30) scale(0.934,1)" font-family='"Liberation Sans", sans-serif' font-size="10" font-weight="bold" font-style="normal" text-anchor="start" fill="#000" stroke="#000" stroke-width="0.3">p_family_DSDR&gt;30%</text>
<g stroke="#619CFF" stroke-opacity="0.55" fill="none" stroke-width="0.9"><rect x="527.90" y="113.50" width="5.0" height="5.0"/><path d="M527.90,113.50L532.90,118.50M532.90,113.50L527.90,118.50" stroke-width="0.54"/></g>
<g stroke="#619CFF" stroke-opacity="0.55" fill="none" stroke-width="0.9"><rect x="527.90" y="134.60" width="5.0" height="5.0"/><path d="M527.90,134.60L532.90,139.60M532.90,134.60L527.90,139.60" stroke-width="0.54"/></g>
<g stroke="#619CFF" stroke-opacity="0.55" fill="none" stroke-width="0.9"><rect x="526.20" y="139.10" width="5.0" height="5.0"/><path d="M526.20,139.10L531.20,144.10M531.20,139.10L526.20,144.10" stroke-width="0.54"/></g>
<g stroke="#619CFF" stroke-opacity="0.55" fill="none" stroke-width="0.9"><rect x="528.60" y="142.10" width="5.0" height="5.0"/><path d="M528.60,142.10L533.60,147.10M533.60,142.10L528.60,147.10" stroke-width="0.54"/></g>
<path d="M569.70,112.30H576.90M573.30,108.70V115.90" stroke="#00BFC4" stroke-opacity="0.6" stroke-width="0.9" fill="none"/>
<path d="M569.70,117.30H576.90M573.30,113.70V120.90" stroke="#00BFC4" stroke-opacity="0.6" stroke-width="0.9" fill="none"/>
<path d="M559.30,122.20H566.50M562.90,118.60V125.80" stroke="#00BFC4" stroke-opacity="0.6" stroke-width="0.9" fill="none"/>
<path d="M533.90,119.80H540.70M537.30,116.40V123.20M534.85,117.35L539.75,122.25M539.75,117.35L534.85,122.25" stroke="#F564E3" stroke-opacity="0.55" stroke-width="0.8" fill="none"/>
<path d="M537.70,122.20H544.50M541.10,118.80V125.60M538.65,119.75L543.55,124.65M543.55,119.75L538.65,124.65" stroke="#F564E3" stroke-opacity="0.55" stroke-width="0.8" fill="none"/>
<path d="M538.40,136.60H545.20M541.80,133.20V140.00M539.35,134.15L544.25,139.05M544.25,134.15L539.35,139.05" stroke="#F564E3" stroke-opacity="0.55" stroke-width="0.8" fill="none"/>
<path d="M529.10,104.25 L532.50,110.17 L525.70,110.17 Z" fill="#B79F00"/>
<path d="M529.10,108.25 L532.50,114.17 L525.70,114.17 Z" fill="#B79F00"/>
<path d="M527.40,115.75 L530.80,121.67 L524.00,121.67 Z" fill="#B79F00"/>
<path d="M527.40,120.65 L530.80,126.57 L524.00,126.57 Z" fill="#B79F00"/>
<path d="M531.10,123.65 L534.50,129.57 L527.70,129.57 Z" fill="#B79F00"/>
<path d="M527.90,151.75 L531.30,157.67 L524.50,157.67 Z" fill="#B79F00"/>
<rect x="531.80" y="112.70" width="5.2" height="5.2" fill="#00BA38"/>
<rect x="532.30" y="128.30" width="5.2" height="5.2" fill="#00BA38"/>
<rect x="532.30" y="132.10" width="5.2" height="5.2" fill="#00BA38"/>
<rect x="531.80" y="137.00" width="5.2" height="5.2" fill="#00BA38"/>
<rect x="542.90" y="116.40" width="5.2" height="5.2" fill="#00BA38"/>
<rect x="542.90" y="119.60" width="5.2" height="5.2" fill="#00BA38"/>
<rect x="542.90" y="124.60" width="5.2" height="5.2" fill="#00BA38"/>
<rect x="540.90" y="130.80" width="5.2" height="5.2" fill="#00BA38"/>
<rect x="539.20" y="124.60" width="5.2" height="5.2" fill="#00BA38"/>
<circle cx="614.30" cy="81.30" r="2.95" fill="#F8766D" fill-opacity="0.9"/>
<circle cx="614.30" cy="94.40" r="2.95" fill="#F8766D" fill-opacity="0.9"/>
<circle cx="622.20" cy="96.20" r="2.95" fill="#F8766D" fill-opacity="0.9"/>
<circle cx="629.90" cy="89.20" r="2.95" fill="#F8766D" fill-opacity="0.9"/>
<circle cx="640.30" cy="86.30" r="2.95" fill="#F8766D" fill-opacity="0.9"/>
<circle cx="644.10" cy="65.90" r="2.95" fill="#F8766D" fill-opacity="0.9"/>
<circle cx="644.10" cy="71.40" r="2.95" fill="#F8766D" fill-opacity="0.9"/>
<circle cx="644.10" cy="77.60" r="2.95" fill="#F8766D" fill-opacity="0.9"/>
<circle cx="651.50" cy="65.90" r="2.95" fill="#F8766D" fill-opacity="0.9"/>
<circle cx="651.50" cy="67.60" r="2.95" fill="#F8766D" fill-opacity="0.9"/>
<circle cx="600.10" cy="107.40" r="2.95" fill="#F8766D" fill-opacity="0.9"/>
<circle cx="580.80" cy="122.70" r="2.95" fill="#F8766D" fill-opacity="0.9"/>
<line x1="546.50" y1="121.50" x2="573.30" y2="121.50" stroke="#444" stroke-width="0.75"/>
<line x1="614.30" y1="89.50" x2="640.30" y2="89.50" stroke="#444" stroke-width="0.75"/>
<line x1="622.50" y1="81.30" x2="622.50" y2="95.00" stroke="#444" stroke-width="0.75"/>
<line x1="644.10" y1="68.50" x2="650.30" y2="68.50" stroke="#444" stroke-width="0.75"/>
<line x1="531.50" y1="128.00" x2="531.50" y2="136.00" stroke="#444" stroke-width="0.75"/>
<line x1="531.30" y1="128.50" x2="541.80" y2="128.50" stroke="#444" stroke-width="0.75"/>
<line x1="541.50" y1="123.70" x2="541.50" y2="128.10" stroke="#444" stroke-width="0.75"/>
<circle cx="528.80" cy="123.90" r="1.4" fill="#000"/>
<circle cx="531.00" cy="135.50" r="1.4" fill="#000"/>
<circle cx="541.90" cy="128.10" r="1.4" fill="#000"/>
<circle cx="546.60" cy="121.00" r="1.4" fill="#000"/>
<circle cx="622.20" cy="89.20" r="1.4" fill="#000"/>
<circle cx="644.10" cy="68.90" r="1.4" fill="#000"/>
<text transform="translate(628.40,153.50) scale(0.9,1)" font-family='"Liberation Sans", sans-serif' font-size="10.2" font-weight="bold" font-style="normal" text-anchor="start" fill="#e8141c" stroke="#e8141c" stroke-width="0.3"><tspan font-style="italic">R</tspan>=0.72</text>
<text transform="translate(628.40,164.60) scale(0.9,1)" font-family='"Liberation Sans", sans-serif' font-size="10.2" font-weight="bold" font-style="normal" text-anchor="start" fill="#e8141c" stroke="#e8141c" stroke-width="0.3"><tspan font-style="italic">P</tspan>=3.5E-09</text>
<text transform="translate(489.90,95.20) rotate(-90)" font-family='"Liberation Sans", sans-serif' font-size="9.6" font-weight="bold" text-anchor="middle" fill="#000" textLength="139" lengthAdjust="spacingAndGlyphs">Percentage of IDDs (family)</text>
<text transform="translate(502.00,93.90) rotate(-90)" font-family='"Liberation Sans", sans-serif' font-size="9.6" font-weight="bold" text-anchor="middle" fill="#000" textLength="172.4" lengthAdjust="spacingAndGlyphs">(DSDR &gt; 30%) in each species (%)</text>
<rect x="519.50" y="201.50" width="164.90" height="146.00" fill="none" stroke="#999" stroke-width="1"/>
<line x1="526.70" y1="347.50" x2="526.70" y2="350.00" stroke="#999" stroke-width="0.8"/>
<line x1="564.10" y1="347.50" x2="564.10" y2="350.00" stroke="#999" stroke-width="0.8"/>
<line x1="601.50" y1="347.50" x2="601.50" y2="350.00" stroke="#999" stroke-width="0.8"/>
<line x1="638.90" y1="347.50" x2="638.90" y2="350.00" stroke="#999" stroke-width="0.8"/>
<line x1="676.30" y1="347.50" x2="676.30" y2="350.00" stroke="#999" stroke-width="0.8"/>
<line x1="517.30" y1="339.70" x2="519.50" y2="339.70" stroke="#999" stroke-width="0.8"/>
<line x1="517.30" y1="303.50" x2="519.50" y2="303.50" stroke="#999" stroke-width="0.8"/>
<line x1="517.30" y1="267.30" x2="519.50" y2="267.30" stroke="#999" stroke-width="0.8"/>
<line x1="517.30" y1="231.00" x2="519.50" y2="231.00" stroke="#999" stroke-width="0.8"/>
<text transform="translate(511.60,343.20) scale(0.95,1)" font-family='"Liberation Sans", sans-serif' font-size="9.8" font-weight="bold" font-style="normal" text-anchor="middle" fill="#000" stroke="#000" stroke-width="0.3">0</text>
<text transform="translate(511.60,307.00) scale(0.95,1)" font-family='"Liberation Sans", sans-serif' font-size="9.8" font-weight="bold" font-style="normal" text-anchor="middle" fill="#000" stroke="#000" stroke-width="0.3">5</text>
<text transform="translate(511.60,270.80) scale(0.95,1)" font-family='"Liberation Sans", sans-serif' font-size="9.8" font-weight="bold" font-style="normal" text-anchor="middle" fill="#000" stroke="#000" stroke-width="0.3">10</text>
<text transform="translate(511.60,234.50) scale(0.95,1)" font-family='"Liberation Sans", sans-serif' font-size="9.8" font-weight="bold" font-style="normal" text-anchor="middle" fill="#000" stroke="#000" stroke-width="0.3">15</text>
<text transform="translate(526.70,358.30) scale(0.95,1)" font-family='"Liberation Sans", sans-serif' font-size="9.8" font-weight="bold" font-style="normal" text-anchor="middle" fill="#000" stroke="#000" stroke-width="0.3">0</text>
<text transform="translate(564.10,358.30) scale(0.95,1)" font-family='"Liberation Sans", sans-serif' font-size="9.8" font-weight="bold" font-style="normal" text-anchor="middle" fill="#000" stroke="#000" stroke-width="0.3">50</text>
<text transform="translate(601.50,358.30) scale(0.95,1)" font-family='"Liberation Sans", sans-serif' font-size="9.8" font-weight="bold" font-style="normal" text-anchor="middle" fill="#000" stroke="#000" stroke-width="0.3">100</text>
<text transform="translate(638.90,358.30) scale(0.95,1)" font-family='"Liberation Sans", sans-serif' font-size="9.8" font-weight="bold" font-style="normal" text-anchor="middle" fill="#000" stroke="#000" stroke-width="0.3">150</text>
<text transform="translate(676.30,358.30) scale(0.95,1)" font-family='"Liberation Sans", sans-serif' font-size="9.8" font-weight="bold" font-style="normal" text-anchor="middle" fill="#000" stroke="#000" stroke-width="0.3">200</text>
<text transform="translate(543.50,217.00) scale(0.934,1)" font-family='"Liberation Sans", sans-serif' font-size="10" font-weight="bold" font-style="normal" text-anchor="start" fill="#000" stroke="#000" stroke-width="0.3">p_family_CDRN≥1</text>
<g stroke="#619CFF" stroke-opacity="0.55" fill="none" stroke-width="0.9"><rect x="527.90" y="249.60" width="5.0" height="5.0"/><path d="M527.90,249.60L532.90,254.60M532.90,249.60L527.90,254.60" stroke-width="0.54"/></g>
<g stroke="#619CFF" stroke-opacity="0.55" fill="none" stroke-width="0.9"><rect x="529.90" y="290.50" width="5.0" height="5.0"/><path d="M529.90,290.50L534.90,295.50M534.90,290.50L529.90,295.50" stroke-width="0.54"/></g>
<g stroke="#619CFF" stroke-opacity="0.55" fill="none" stroke-width="0.9"><rect x="529.90" y="299.20" width="5.0" height="5.0"/><path d="M529.90,299.20L534.90,304.20M534.90,299.20L529.90,304.20" stroke-width="0.54"/></g>
<g stroke="#619CFF" stroke-opacity="0.55" fill="none" stroke-width="0.9"><rect x="527.90" y="309.70" width="5.0" height="5.0"/><path d="M527.90,309.70L532.90,314.70M532.90,309.70L527.90,314.70" stroke-width="0.54"/></g>
<path d="M571.00,265.70H578.20M574.60,262.10V269.30" stroke="#00BFC4" stroke-opacity="0.6" stroke-width="0.9" fill="none"/>
<path d="M571.00,270.20H578.20M574.60,266.60V273.80" stroke="#00BFC4" stroke-opacity="0.6" stroke-width="0.9" fill="none"/>
<path d="M561.00,280.10H568.20M564.60,276.50V283.70" stroke="#00BFC4" stroke-opacity="0.6" stroke-width="0.9" fill="none"/>
<path d="M535.70,275.70H542.50M539.10,272.30V279.10M536.65,273.25L541.55,278.15M541.55,273.25L536.65,278.15" stroke="#F564E3" stroke-opacity="0.55" stroke-width="0.8" fill="none"/>
<path d="M539.40,284.40H546.20M542.80,281.00V287.80M540.35,281.95L545.25,286.85M545.25,281.95L540.35,286.85" stroke="#F564E3" stroke-opacity="0.55" stroke-width="0.8" fill="none"/>
<path d="M538.40,296.30H545.20M541.80,292.90V299.70M539.35,293.85L544.25,298.75M544.25,293.85L539.35,298.75" stroke="#F564E3" stroke-opacity="0.55" stroke-width="0.8" fill="none"/>
<path d="M530.60,236.85 L534.00,242.77 L527.20,242.77 Z" fill="#B79F00"/>
<path d="M530.60,244.85 L534.00,250.77 L527.20,250.77 Z" fill="#B79F00"/>
<path d="M529.10,267.15 L532.50,273.07 L525.70,273.07 Z" fill="#B79F00"/>
<path d="M529.10,274.55 L532.50,280.47 L525.70,280.47 Z" fill="#B79F00"/>
<path d="M532.40,278.35 L535.80,284.27 L529.00,284.27 Z" fill="#B79F00"/>
<path d="M529.10,282.75 L532.50,288.67 L525.70,288.67 Z" fill="#B79F00"/>
<path d="M529.10,322.25 L532.50,328.17 L525.70,328.17 Z" fill="#B79F00"/>
<rect x="533.50" y="253.70" width="5.2" height="5.2" fill="#00BA38"/>
<rect x="533.50" y="274.30" width="5.2" height="5.2" fill="#00BA38"/>
<rect x="534.70" y="286.20" width="5.2" height="5.2" fill="#00BA38"/>
<rect x="533.50" y="296.60" width="5.2" height="5.2" fill="#00BA38"/>
<rect x="533.50" y="299.10" width="5.2" height="5.2" fill="#00BA38"/>
<rect x="544.20" y="278.80" width="5.2" height="5.2" fill="#00BA38"/>
<rect x="544.20" y="285.50" width="5.2" height="5.2" fill="#00BA38"/>
<rect x="542.20" y="294.20" width="5.2" height="5.2" fill="#00BA38"/>
<circle cx="616.00" cy="237.70" r="2.95" fill="#F8766D" fill-opacity="0.9"/>
<circle cx="616.00" cy="247.10" r="2.95" fill="#F8766D" fill-opacity="0.9"/>
<circle cx="616.00" cy="249.10" r="2.95" fill="#F8766D" fill-opacity="0.9"/>
<circle cx="623.70" cy="247.90" r="2.95" fill="#F8766D" fill-opacity="0.9"/>
<circle cx="631.20" cy="244.10" r="2.95" fill="#F8766D" fill-opacity="0.9"/>
<circle cx="641.60" cy="237.20" r="2.95" fill="#F8766D" fill-opacity="0.9"/>
<circle cx="645.80" cy="236.00" r="2.95" fill="#F8766D" fill-opacity="0.9"/>
<circle cx="645.80" cy="225.30" r="2.95" fill="#F8766D" fill-opacity="0.9"/>
<circle cx="645.80" cy="217.30" r="2.95" fill="#F8766D" fill-opacity="0.9"/>
<circle cx="653.20" cy="214.10" r="2.95" fill="#F8766D" fill-opacity="0.9"/>
<circle cx="653.20" cy="216.60" r="2.95" fill="#F8766D" fill-opacity="0.9"/>
<circle cx="601.40" cy="264.50" r="2.95" fill="#F8766D" fill-opacity="0.9"/>
<circle cx="582.00" cy="281.10" r="2.95" fill="#F8766D" fill-opacity="0.9"/>
<line x1="530.50" y1="251.40" x2="530.50" y2="278.40" stroke="#444" stroke-width="0.75"/>
<line x1="532.50" y1="289.40" x2="532.50" y2="295.00" stroke="#444" stroke-width="0.75"/>
<line x1="543.50" y1="285.00" x2="543.50" y2="297.70" stroke="#444" stroke-width="0.75"/>
<line x1="548.00" y1="281.50" x2="574.60" y2="281.50" stroke="#444" stroke-width="0.75"/>
<line x1="616.00" y1="244.50" x2="641.60" y2="244.50" stroke="#444" stroke-width="0.75"/>
<line x1="623.50" y1="237.70" x2="623.50" y2="247.10" stroke="#444" stroke-width="0.75"/>
<line x1="645.80" y1="219.50" x2="651.00" y2="219.50" stroke="#444" stroke-width="0.75"/>
<circle cx="529.90" cy="278.10" r="1.4" fill="#000"/>
<circle cx="532.40" cy="289.30" r="1.4" fill="#000"/>
<circle cx="543.50" cy="288.10" r="1.4" fill="#000"/>
<circle cx="548.00" cy="281.10" r="1.4" fill="#000"/>
<circle cx="623.70" cy="244.10" r="1.4" fill="#000"/>
<circle cx="645.80" cy="219.10" r="1.4" fill="#000"/>
<text transform="translate(629.70,327.60) scale(0.9,1)" font-family='"Liberation Sans", sans-serif' font-size="10.2" font-weight="bold" font-style="normal" text-anchor="start" fill="#e8141c" stroke="#e8141c" stroke-width="0.3"><tspan font-style="italic">R</tspan>=0.61</text>
<text transform="translate(629.70,338.70) scale(0.9,1)" font-family='"Liberation Sans", sans-serif' font-size="10.2" font-weight="bold" font-style="normal" text-anchor="start" fill="#e8141c" stroke="#e8141c" stroke-width="0.3"><tspan font-style="italic">P</tspan>=1.7E-06</text>
<text transform="translate(489.90,276.50) rotate(-90)" font-family='"Liberation Sans", sans-serif' font-size="9.6" font-weight="bold" text-anchor="middle" fill="#000" textLength="139" lengthAdjust="spacingAndGlyphs">Percentage of IDDs (family)</text>
<text transform="translate(502.00,277.80) rotate(-90)" font-family='"Liberation Sans", sans-serif' font-size="9.6" font-weight="bold" text-anchor="middle" fill="#000" textLength="159.6" lengthAdjust="spacingAndGlyphs">(CDRN ≥ 1) in each species (%)</text>
<text x="601.90" y="371.00" font-family='"Liberation Sans", sans-serif' font-size="11.1" font-weight="bold" font-style="normal" text-anchor="middle" fill="#000">Cell type number in a species</text>
<circle cx="114.00" cy="384.80" r="4.6" fill="#F8766D" fill-opacity="1"/>
<path d="M107.50,401.60H120.50M114.00,395.10V408.10M109.32,396.92L118.68,406.28M118.68,396.92L109.32,406.28" stroke="#F564E3" stroke-opacity="0.5" stroke-width="1.1" fill="none"/>
<path d="M326.80,383.40H339.80M333.30,376.90V389.90" stroke="#00BFC4" stroke-opacity="0.7" stroke-width="1.1" fill="none"/>
<g stroke="#619CFF" stroke-opacity="0.55" fill="none" stroke-width="1.3"><rect x="329.00" y="398.10" width="9" height="9"/><path d="M329.00,398.10L338.00,407.10M338.00,398.10L329.00,407.10" stroke-width="0.78"/></g>
<rect x="479.20" y="380.00" width="9" height="9" fill="#00BA38"/>
<path d="M484.00,395.24 L489.80,405.34 L478.20,405.34 Z" fill="#B79F00"/>
<text x="128.20" y="390.00" font-family='"Liberation Sans", sans-serif' font-size="12.3" font-weight="bold" font-style="normal" text-anchor="start" fill="#000">Deuterostomia</text>
<text x="128.20" y="407.50" font-family='"Liberation Sans", sans-serif' font-size="12.3" font-weight="bold" font-style="normal" text-anchor="start" fill="#000">Sponges and Cnidarians</text>
<text x="347.20" y="388.80" font-family='"Liberation Sans", sans-serif' font-size="12.3" font-weight="bold" font-style="normal" text-anchor="start" fill="#000">Protostomia</text>
<text x="347.20" y="407.50" font-family='"Liberation Sans", sans-serif' font-size="12.3" font-weight="bold" font-style="normal" text-anchor="start" fill="#000">Protozoa</text>
<text x="497.40" y="389.50" font-family='"Liberation Sans", sans-serif' font-size="12.3" font-weight="bold" font-style="normal" text-anchor="start" fill="#000">Plant</text>
<text x="497.40" y="406.50" font-family='"Liberation Sans", sans-serif' font-size="12.3" font-weight="bold" font-style="normal" text-anchor="start" fill="#000">Fungi</text>
<rect x="84.5" y="438.5" width="568.0" height="195.89999999999998" fill="none" stroke="#3a3a3a" stroke-width="0.9"/>
<line x1="368.60" y1="432.10" x2="368.60" y2="643.40" stroke="#3a3a3a" stroke-width="0.9"/>
<line x1="124.10" y1="438.50" x2="124.10" y2="634.40" stroke="#222" stroke-width="0.8" stroke-dasharray="1.4,1.6"/>
<line x1="205.30" y1="438.50" x2="205.30" y2="634.40" stroke="#222" stroke-width="0.8" stroke-dasharray="1.4,1.6"/>
<line x1="285.00" y1="438.50" x2="285.00" y2="634.40" stroke="#222" stroke-width="0.8" stroke-dasharray="1.4,1.6"/>
<line x1="417.50" y1="438.50" x2="417.50" y2="634.40" stroke="#222" stroke-width="0.8" stroke-dasharray="1.4,1.6"/>
<line x1="495.50" y1="438.50" x2="495.50" y2="634.40" stroke="#222" stroke-width="0.8" stroke-dasharray="1.4,1.6"/>
<line x1="574.80" y1="438.50" x2="574.80" y2="634.40" stroke="#222" stroke-width="0.8" stroke-dasharray="1.4,1.6"/>
<line x1="84.50" y1="630.00" x2="86.70" y2="630.00" stroke="#3a3a3a" stroke-width="0.8"/>
<line x1="650.30" y1="630.00" x2="652.50" y2="630.00" stroke="#3a3a3a" stroke-width="0.8"/>
<text x="83.60" y="633.50" font-family='"Liberation Sans", sans-serif' font-size="10" font-weight="normal" font-style="normal" text-anchor="end" fill="#222">0</text>
<line x1="84.50" y1="602.50" x2="86.70" y2="602.50" stroke="#3a3a3a" stroke-width="0.8"/>
<line x1="650.30" y1="602.50" x2="652.50" y2="602.50" stroke="#3a3a3a" stroke-width="0.8"/>
<text x="83.60" y="606.00" font-family='"Liberation Sans", sans-serif' font-size="10" font-weight="normal" font-style="normal" text-anchor="end" fill="#222">2</text>
<line x1="84.50" y1="575.00" x2="86.70" y2="575.00" stroke="#3a3a3a" stroke-width="0.8"/>
<line x1="650.30" y1="575.00" x2="652.50" y2="575.00" stroke="#3a3a3a" stroke-width="0.8"/>
<text x="83.60" y="578.50" font-family='"Liberation Sans", sans-serif' font-size="10" font-weight="normal" font-style="normal" text-anchor="end" fill="#222">4</text>
<line x1="84.50" y1="547.50" x2="86.70" y2="547.50" stroke="#3a3a3a" stroke-width="0.8"/>
<line x1="650.30" y1="547.50" x2="652.50" y2="547.50" stroke="#3a3a3a" stroke-width="0.8"/>
<text x="83.60" y="551.00" font-family='"Liberation Sans", sans-serif' font-size="10" font-weight="normal" font-style="normal" text-anchor="end" fill="#222">6</text>
<line x1="84.50" y1="520.00" x2="86.70" y2="520.00" stroke="#3a3a3a" stroke-width="0.8"/>
<line x1="650.30" y1="520.00" x2="652.50" y2="520.00" stroke="#3a3a3a" stroke-width="0.8"/>
<text x="83.60" y="523.50" font-family='"Liberation Sans", sans-serif' font-size="10" font-weight="normal" font-style="normal" text-anchor="end" fill="#222">8</text>
<line x1="84.50" y1="492.50" x2="86.70" y2="492.50" stroke="#3a3a3a" stroke-width="0.8"/>
<line x1="650.30" y1="492.50" x2="652.50" y2="492.50" stroke="#3a3a3a" stroke-width="0.8"/>
<text x="83.60" y="496.00" font-family='"Liberation Sans", sans-serif' font-size="10" font-weight="normal" font-style="normal" text-anchor="end" fill="#222">10</text>
<line x1="84.50" y1="465.00" x2="86.70" y2="465.00" stroke="#3a3a3a" stroke-width="0.8"/>
<line x1="650.30" y1="465.00" x2="652.50" y2="465.00" stroke="#3a3a3a" stroke-width="0.8"/>
<text x="83.60" y="468.50" font-family='"Liberation Sans", sans-serif' font-size="10" font-weight="normal" font-style="normal" text-anchor="end" fill="#222">12</text>
<line x1="97.50" y1="634.40" x2="97.50" y2="632.20" stroke="#3a3a3a" stroke-width="0.8"/>
<line x1="97.50" y1="438.50" x2="97.50" y2="440.70" stroke="#3a3a3a" stroke-width="0.8"/>
<line x1="110.80" y1="634.40" x2="110.80" y2="632.20" stroke="#3a3a3a" stroke-width="0.8"/>
<line x1="110.80" y1="438.50" x2="110.80" y2="440.70" stroke="#3a3a3a" stroke-width="0.8"/>
<line x1="137.20" y1="634.40" x2="137.20" y2="632.20" stroke="#3a3a3a" stroke-width="0.8"/>
<line x1="137.20" y1="438.50" x2="137.20" y2="440.70" stroke="#3a3a3a" stroke-width="0.8"/>
<line x1="150.30" y1="634.40" x2="150.30" y2="632.20" stroke="#3a3a3a" stroke-width="0.8"/>
<line x1="150.30" y1="438.50" x2="150.30" y2="440.70" stroke="#3a3a3a" stroke-width="0.8"/>
<line x1="163.70" y1="634.40" x2="163.70" y2="632.20" stroke="#3a3a3a" stroke-width="0.8"/>
<line x1="163.70" y1="438.50" x2="163.70" y2="440.70" stroke="#3a3a3a" stroke-width="0.8"/>
<line x1="176.70" y1="634.40" x2="176.70" y2="632.20" stroke="#3a3a3a" stroke-width="0.8"/>
<line x1="176.70" y1="438.50" x2="176.70" y2="440.70" stroke="#3a3a3a" stroke-width="0.8"/>
<line x1="190.00" y1="634.40" x2="190.00" y2="632.20" stroke="#3a3a3a" stroke-width="0.8"/>
<line x1="190.00" y1="438.50" x2="190.00" y2="440.70" stroke="#3a3a3a" stroke-width="0.8"/>
<line x1="216.20" y1="634.40" x2="216.20" y2="632.20" stroke="#3a3a3a" stroke-width="0.8"/>
<line x1="216.20" y1="438.50" x2="216.20" y2="440.70" stroke="#3a3a3a" stroke-width="0.8"/>
<line x1="229.60" y1="634.40" x2="229.60" y2="632.20" stroke="#3a3a3a" stroke-width="0.8"/>
<line x1="229.60" y1="438.50" x2="229.60" y2="440.70" stroke="#3a3a3a" stroke-width="0.8"/>
<line x1="243.10" y1="634.40" x2="243.10" y2="632.20" stroke="#3a3a3a" stroke-width="0.8"/>
<line x1="243.10" y1="438.50" x2="243.10" y2="440.70" stroke="#3a3a3a" stroke-width="0.8"/>
<line x1="256.00" y1="634.40" x2="256.00" y2="632.20" stroke="#3a3a3a" stroke-width="0.8"/>
<line x1="256.00" y1="438.50" x2="256.00" y2="440.70" stroke="#3a3a3a" stroke-width="0.8"/>
<line x1="269.20" y1="634.40" x2="269.20" y2="632.20" stroke="#3a3a3a" stroke-width="0.8"/>
<line x1="269.20" y1="438.50" x2="269.20" y2="440.70" stroke="#3a3a3a" stroke-width="0.8"/>
<line x1="295.60" y1="634.40" x2="295.60" y2="632.20" stroke="#3a3a3a" stroke-width="0.8"/>
<line x1="295.60" y1="438.50" x2="295.60" y2="440.70" stroke="#3a3a3a" stroke-width="0.8"/>
<line x1="309.00" y1="634.40" x2="309.00" y2="632.20" stroke="#3a3a3a" stroke-width="0.8"/>
<line x1="309.00" y1="438.50" x2="309.00" y2="440.70" stroke="#3a3a3a" stroke-width="0.8"/>
<line x1="322.10" y1="634.40" x2="322.10" y2="632.20" stroke="#3a3a3a" stroke-width="0.8"/>
<line x1="322.10" y1="438.50" x2="322.10" y2="440.70" stroke="#3a3a3a" stroke-width="0.8"/>
<line x1="335.20" y1="634.40" x2="335.20" y2="632.20" stroke="#3a3a3a" stroke-width="0.8"/>
<line x1="335.20" y1="438.50" x2="335.20" y2="440.70" stroke="#3a3a3a" stroke-width="0.8"/>
<line x1="348.30" y1="634.40" x2="348.30" y2="632.20" stroke="#3a3a3a" stroke-width="0.8"/>
<line x1="348.30" y1="438.50" x2="348.30" y2="440.70" stroke="#3a3a3a" stroke-width="0.8"/>
<line x1="388.20" y1="634.40" x2="388.20" y2="632.20" stroke="#3a3a3a" stroke-width="0.8"/>
<line x1="388.20" y1="438.50" x2="388.20" y2="440.70" stroke="#3a3a3a" stroke-width="0.8"/>
<line x1="401.60" y1="634.40" x2="401.60" y2="632.20" stroke="#3a3a3a" stroke-width="0.8"/>
<line x1="401.60" y1="438.50" x2="401.60" y2="440.70" stroke="#3a3a3a" stroke-width="0.8"/>
<line x1="427.90" y1="634.40" x2="427.90" y2="632.20" stroke="#3a3a3a" stroke-width="0.8"/>
<line x1="427.90" y1="438.50" x2="427.90" y2="440.70" stroke="#3a3a3a" stroke-width="0.8"/>
<line x1="441.20" y1="634.40" x2="441.20" y2="632.20" stroke="#3a3a3a" stroke-width="0.8"/>
<line x1="441.20" y1="438.50" x2="441.20" y2="440.70" stroke="#3a3a3a" stroke-width="0.8"/>
<line x1="454.10" y1="634.40" x2="454.10" y2="632.20" stroke="#3a3a3a" stroke-width="0.8"/>
<line x1="454.10" y1="438.50" x2="454.10" y2="440.70" stroke="#3a3a3a" stroke-width="0.8"/>
<line x1="467.40" y1="634.40" x2="467.40" y2="632.20" stroke="#3a3a3a" stroke-width="0.8"/>
<line x1="467.40" y1="438.50" x2="467.40" y2="440.70" stroke="#3a3a3a" stroke-width="0.8"/>
<line x1="480.90" y1="634.40" x2="480.90" y2="632.20" stroke="#3a3a3a" stroke-width="0.8"/>
<line x1="480.90" y1="438.50" x2="480.90" y2="440.70" stroke="#3a3a3a" stroke-width="0.8"/>
<line x1="507.00" y1="634.40" x2="507.00" y2="632.20" stroke="#3a3a3a" stroke-width="0.8"/>
<line x1="507.00" y1="438.50" x2="507.00" y2="440.70" stroke="#3a3a3a" stroke-width="0.8"/>
<line x1="520.10" y1="634.40" x2="520.10" y2="632.20" stroke="#3a3a3a" stroke-width="0.8"/>
<line x1="520.10" y1="438.50" x2="520.10" y2="440.70" stroke="#3a3a3a" stroke-width="0.8"/>
<line x1="533.50" y1="634.40" x2="533.50" y2="632.20" stroke="#3a3a3a" stroke-width="0.8"/>
<line x1="533.50" y1="438.50" x2="533.50" y2="440.70" stroke="#3a3a3a" stroke-width="0.8"/>
<line x1="546.70" y1="634.40" x2="546.70" y2="632.20" stroke="#3a3a3a" stroke-width="0.8"/>
<line x1="546.70" y1="438.50" x2="546.70" y2="440.70" stroke="#3a3a3a" stroke-width="0.8"/>
<line x1="560.00" y1="634.40" x2="560.00" y2="632.20" stroke="#3a3a3a" stroke-width="0.8"/>
<line x1="560.00" y1="438.50" x2="560.00" y2="440.70" stroke="#3a3a3a" stroke-width="0.8"/>
<line x1="586.40" y1="634.40" x2="586.40" y2="632.20" stroke="#3a3a3a" stroke-width="0.8"/>
<line x1="586.40" y1="438.50" x2="586.40" y2="440.70" stroke="#3a3a3a" stroke-width="0.8"/>
<line x1="599.70" y1="634.40" x2="599.70" y2="632.20" stroke="#3a3a3a" stroke-width="0.8"/>
<line x1="599.70" y1="438.50" x2="599.70" y2="440.70" stroke="#3a3a3a" stroke-width="0.8"/>
<line x1="612.90" y1="634.40" x2="612.90" y2="632.20" stroke="#3a3a3a" stroke-width="0.8"/>
<line x1="612.90" y1="438.50" x2="612.90" y2="440.70" stroke="#3a3a3a" stroke-width="0.8"/>
<line x1="626.20" y1="634.40" x2="626.20" y2="632.20" stroke="#3a3a3a" stroke-width="0.8"/>
<line x1="626.20" y1="438.50" x2="626.20" y2="440.70" stroke="#3a3a3a" stroke-width="0.8"/>
<line x1="639.30" y1="634.40" x2="639.30" y2="632.20" stroke="#3a3a3a" stroke-width="0.8"/>
<line x1="639.30" y1="438.50" x2="639.30" y2="440.70" stroke="#3a3a3a" stroke-width="0.8"/>
<line x1="97.50" y1="596.60" x2="97.50" y2="590.50" stroke="#000" stroke-width="0.8" stroke-dasharray="7.5,3.5"/>
<line x1="97.50" y1="602.50" x2="97.50" y2="608.70" stroke="#000" stroke-width="0.8" stroke-dasharray="7.5,3.5"/>
<line x1="95.90" y1="590.50" x2="99.10" y2="590.50" stroke="#000" stroke-width="0.9"/>
<line x1="95.90" y1="608.70" x2="99.10" y2="608.70" stroke="#000" stroke-width="0.9"/>
<rect x="94.10" y="596.60" width="6.80" height="5.90" fill="none" stroke="#2020ff" stroke-width="0.9"/>
<line x1="94.10" y1="600.40" x2="100.90" y2="600.40" stroke="#ff2020" stroke-width="0.9"/>
<line x1="110.80" y1="582.00" x2="110.80" y2="572.40" stroke="#000" stroke-width="0.8" stroke-dasharray="7.5,3.5"/>
<line x1="110.80" y1="597.50" x2="110.80" y2="602.20" stroke="#000" stroke-width="0.8" stroke-dasharray="7.5,3.5"/>
<line x1="109.20" y1="572.40" x2="112.40" y2="572.40" stroke="#000" stroke-width="0.9"/>
<line x1="109.20" y1="602.20" x2="112.40" y2="602.20" stroke="#000" stroke-width="0.9"/>
<rect x="107.40" y="582.00" width="6.80" height="15.50" fill="none" stroke="#2020ff" stroke-width="0.9"/>
<line x1="107.40" y1="592.20" x2="114.20" y2="592.20" stroke="#ff2020" stroke-width="0.9"/>
<line x1="137.20" y1="617.40" x2="137.20" y2="618.30" stroke="#000" stroke-width="0.8" stroke-dasharray="7.5,3.5"/>
<line x1="135.60" y1="608.90" x2="138.80" y2="608.90" stroke="#000" stroke-width="0.9"/>
<line x1="135.60" y1="618.30" x2="138.80" y2="618.30" stroke="#000" stroke-width="0.9"/>
<rect x="133.80" y="609.40" width="6.80" height="8.00" fill="none" stroke="#2020ff" stroke-width="0.9"/>
<line x1="133.80" y1="613.20" x2="140.60" y2="613.20" stroke="#ff2020" stroke-width="0.9"/>
<line x1="150.30" y1="604.80" x2="150.30" y2="598.30" stroke="#000" stroke-width="0.8" stroke-dasharray="7.5,3.5"/>
<line x1="148.70" y1="598.30" x2="151.90" y2="598.30" stroke="#000" stroke-width="0.9"/>
<line x1="148.70" y1="611.50" x2="151.90" y2="611.50" stroke="#000" stroke-width="0.9"/>
<rect x="146.90" y="604.80" width="6.80" height="6.20" fill="none" stroke="#2020ff" stroke-width="0.9"/>
<line x1="146.90" y1="609.70" x2="153.70" y2="609.70" stroke="#ff2020" stroke-width="0.9"/>
<line x1="163.70" y1="589.60" x2="163.70" y2="580.30" stroke="#000" stroke-width="0.8" stroke-dasharray="7.5,3.5"/>
<line x1="163.70" y1="611.50" x2="163.70" y2="613.20" stroke="#000" stroke-width="0.8" stroke-dasharray="7.5,3.5"/>
<line x1="162.10" y1="580.30" x2="165.30" y2="580.30" stroke="#000" stroke-width="0.9"/>
<line x1="162.10" y1="613.20" x2="165.30" y2="613.20" stroke="#000" stroke-width="0.9"/>
<rect x="160.30" y="589.60" width="6.80" height="21.90" fill="none" stroke="#2020ff" stroke-width="0.9"/>
<line x1="160.30" y1="599.60" x2="167.10" y2="599.60" stroke="#ff2020" stroke-width="0.9"/>
<line x1="176.70" y1="571.20" x2="176.70" y2="568.00" stroke="#000" stroke-width="0.8" stroke-dasharray="7.5,3.5"/>
<line x1="175.10" y1="568.00" x2="178.30" y2="568.00" stroke="#000" stroke-width="0.9"/>
<line x1="175.10" y1="582.60" x2="178.30" y2="582.60" stroke="#000" stroke-width="0.9"/>
<rect x="173.30" y="571.20" width="6.80" height="11.20" fill="none" stroke="#2020ff" stroke-width="0.9"/>
<line x1="173.30" y1="580.00" x2="180.10" y2="580.00" stroke="#ff2020" stroke-width="0.9"/>
<line x1="190.00" y1="566.30" x2="190.00" y2="555.20" stroke="#000" stroke-width="0.8" stroke-dasharray="7.5,3.5"/>
<line x1="190.00" y1="592.20" x2="190.00" y2="618.30" stroke="#000" stroke-width="0.8" stroke-dasharray="7.5,3.5"/>
<line x1="188.40" y1="555.20" x2="191.60" y2="555.20" stroke="#000" stroke-width="0.9"/>
<line x1="188.40" y1="618.30" x2="191.60" y2="618.30" stroke="#000" stroke-width="0.9"/>
<rect x="186.60" y="566.30" width="6.80" height="25.90" fill="none" stroke="#2020ff" stroke-width="0.9"/>
<line x1="186.60" y1="579.40" x2="193.40" y2="579.40" stroke="#ff2020" stroke-width="0.9"/>
<line x1="216.20" y1="607.60" x2="216.20" y2="599.40" stroke="#000" stroke-width="0.8" stroke-dasharray="7.5,3.5"/>
<line x1="216.20" y1="617.60" x2="216.20" y2="625.60" stroke="#000" stroke-width="0.8" stroke-dasharray="7.5,3.5"/>
<line x1="214.60" y1="599.40" x2="217.80" y2="599.40" stroke="#000" stroke-width="0.9"/>
<line x1="214.60" y1="625.60" x2="217.80" y2="625.60" stroke="#000" stroke-width="0.9"/>
<rect x="212.80" y="607.60" width="6.80" height="10.00" fill="none" stroke="#2020ff" stroke-width="0.9"/>
<line x1="212.80" y1="611.10" x2="219.60" y2="611.10" stroke="#ff2020" stroke-width="0.9"/>
<line x1="229.60" y1="594.30" x2="229.60" y2="590.10" stroke="#000" stroke-width="0.8" stroke-dasharray="7.5,3.5"/>
<line x1="229.60" y1="602.20" x2="229.60" y2="606.90" stroke="#000" stroke-width="0.8" stroke-dasharray="7.5,3.5"/>
<line x1="228.00" y1="590.10" x2="231.20" y2="590.10" stroke="#000" stroke-width="0.9"/>
<line x1="228.00" y1="606.90" x2="231.20" y2="606.90" stroke="#000" stroke-width="0.9"/>
<rect x="226.20" y="594.30" width="6.80" height="7.90" fill="none" stroke="#2020ff" stroke-width="0.9"/>
<line x1="226.20" y1="601.30" x2="233.00" y2="601.30" stroke="#ff2020" stroke-width="0.9"/>
<line x1="243.10" y1="588.40" x2="243.10" y2="586.60" stroke="#000" stroke-width="0.8" stroke-dasharray="7.5,3.5"/>
<line x1="243.10" y1="596.40" x2="243.10" y2="602.20" stroke="#000" stroke-width="0.8" stroke-dasharray="7.5,3.5"/>
<line x1="241.50" y1="586.60" x2="244.70" y2="586.60" stroke="#000" stroke-width="0.9"/>
<line x1="241.50" y1="602.20" x2="244.70" y2="602.20" stroke="#000" stroke-width="0.9"/>
<rect x="239.70" y="588.40" width="6.80" height="8.00" fill="none" stroke="#2020ff" stroke-width="0.9"/>
<line x1="239.70" y1="592.40" x2="246.50" y2="592.40" stroke="#ff2020" stroke-width="0.9"/>
<rect x="242.50" y="612.80" width="1.2" height="1.2" fill="#ff2020"/>
<line x1="256.00" y1="565.10" x2="256.00" y2="536.80" stroke="#000" stroke-width="0.8" stroke-dasharray="7.5,3.5"/>
<line x1="256.00" y1="589.40" x2="256.00" y2="602.20" stroke="#000" stroke-width="0.8" stroke-dasharray="7.5,3.5"/>
<line x1="254.40" y1="536.80" x2="257.60" y2="536.80" stroke="#000" stroke-width="0.9"/>
<line x1="254.40" y1="602.20" x2="257.60" y2="602.20" stroke="#000" stroke-width="0.9"/>
<rect x="252.60" y="565.10" width="6.80" height="24.30" fill="none" stroke="#2020ff" stroke-width="0.9"/>
<line x1="252.60" y1="584.20" x2="259.40" y2="584.20" stroke="#ff2020" stroke-width="0.9"/>
<line x1="269.20" y1="574.20" x2="269.20" y2="557.80" stroke="#000" stroke-width="0.8" stroke-dasharray="7.5,3.5"/>
<line x1="269.20" y1="585.40" x2="269.20" y2="602.20" stroke="#000" stroke-width="0.8" stroke-dasharray="7.5,3.5"/>
<line x1="267.60" y1="557.80" x2="270.80" y2="557.80" stroke="#000" stroke-width="0.9"/>
<line x1="267.60" y1="602.20" x2="270.80" y2="602.20" stroke="#000" stroke-width="0.9"/>
<rect x="265.80" y="574.20" width="6.80" height="11.20" fill="none" stroke="#2020ff" stroke-width="0.9"/>
<line x1="265.80" y1="579.60" x2="272.60" y2="579.60" stroke="#ff2020" stroke-width="0.9"/>
<rect x="268.60" y="602.30" width="1.2" height="1.2" fill="#ff2020"/>
<rect x="268.60" y="611.00" width="1.2" height="1.2" fill="#ff2020"/>
<line x1="294.00" y1="595.00" x2="297.20" y2="595.00" stroke="#000" stroke-width="0.9"/>
<line x1="294.00" y1="598.00" x2="297.20" y2="598.00" stroke="#000" stroke-width="0.9"/>
<rect x="292.20" y="595.20" width="6.80" height="2.60" fill="none" stroke="#2020ff" stroke-width="0.9"/>
<line x1="292.20" y1="595.60" x2="299.00" y2="595.60" stroke="#ff2020" stroke-width="0.9"/>
<line x1="309.00" y1="592.90" x2="309.00" y2="590.50" stroke="#000" stroke-width="0.8" stroke-dasharray="7.5,3.5"/>
<line x1="309.00" y1="597.80" x2="309.00" y2="604.10" stroke="#000" stroke-width="0.8" stroke-dasharray="7.5,3.5"/>
<line x1="307.40" y1="590.50" x2="310.60" y2="590.50" stroke="#000" stroke-width="0.9"/>
<line x1="307.40" y1="604.10" x2="310.60" y2="604.10" stroke="#000" stroke-width="0.9"/>
<rect x="305.60" y="592.90" width="6.80" height="4.90" fill="none" stroke="#2020ff" stroke-width="0.9"/>
<line x1="305.60" y1="594.70" x2="312.40" y2="594.70" stroke="#ff2020" stroke-width="0.9"/>
<rect x="308.40" y="575.40" width="1.2" height="1.2" fill="#ff2020"/>
<rect x="308.40" y="577.90" width="1.2" height="1.2" fill="#ff2020"/>
<rect x="308.40" y="580.40" width="1.2" height="1.2" fill="#ff2020"/>
<rect x="308.40" y="584.40" width="1.2" height="1.2" fill="#ff2020"/>
<line x1="320.50" y1="591.50" x2="323.70" y2="591.50" stroke="#000" stroke-width="0.9"/>
<line x1="320.50" y1="595.00" x2="323.70" y2="595.00" stroke="#000" stroke-width="0.9"/>
<rect x="318.70" y="591.70" width="6.80" height="3.00" fill="none" stroke="#2020ff" stroke-width="0.9"/>
<line x1="318.70" y1="593.10" x2="325.50" y2="593.10" stroke="#ff2020" stroke-width="0.9"/>
<line x1="335.20" y1="576.10" x2="335.20" y2="560.40" stroke="#000" stroke-width="0.8" stroke-dasharray="7.5,3.5"/>
<line x1="335.20" y1="595.40" x2="335.20" y2="601.30" stroke="#000" stroke-width="0.8" stroke-dasharray="7.5,3.5"/>
<line x1="333.60" y1="560.40" x2="336.80" y2="560.40" stroke="#000" stroke-width="0.9"/>
<line x1="333.60" y1="601.30" x2="336.80" y2="601.30" stroke="#000" stroke-width="0.9"/>
<rect x="331.80" y="576.10" width="6.80" height="19.30" fill="none" stroke="#2020ff" stroke-width="0.9"/>
<line x1="331.80" y1="589.40" x2="338.60" y2="589.40" stroke="#ff2020" stroke-width="0.9"/>
<line x1="348.30" y1="553.40" x2="348.30" y2="547.60" stroke="#000" stroke-width="0.8" stroke-dasharray="7.5,3.5"/>
<line x1="348.30" y1="562.70" x2="348.30" y2="575.40" stroke="#000" stroke-width="0.8" stroke-dasharray="7.5,3.5"/>
<line x1="346.70" y1="547.60" x2="349.90" y2="547.60" stroke="#000" stroke-width="0.9"/>
<line x1="346.70" y1="575.40" x2="349.90" y2="575.40" stroke="#000" stroke-width="0.9"/>
<rect x="344.90" y="553.40" width="6.80" height="9.30" fill="none" stroke="#2020ff" stroke-width="0.9"/>
<line x1="344.90" y1="556.90" x2="351.70" y2="556.90" stroke="#ff2020" stroke-width="0.9"/>
<rect x="347.70" y="514.80" width="1.2" height="1.2" fill="#ff2020"/>
<rect x="347.70" y="589.50" width="1.2" height="1.2" fill="#ff2020"/>
<rect x="347.70" y="591.80" width="1.2" height="1.2" fill="#ff2020"/>
<line x1="388.20" y1="554.50" x2="388.20" y2="547.50" stroke="#000" stroke-width="0.8" stroke-dasharray="7.5,3.5"/>
<line x1="388.20" y1="562.10" x2="388.20" y2="572.20" stroke="#000" stroke-width="0.8" stroke-dasharray="7.5,3.5"/>
<line x1="386.60" y1="547.50" x2="389.80" y2="547.50" stroke="#000" stroke-width="0.9"/>
<line x1="386.60" y1="572.20" x2="389.80" y2="572.20" stroke="#000" stroke-width="0.9"/>
<rect x="384.80" y="554.50" width="6.80" height="7.60" fill="none" stroke="#2020ff" stroke-width="0.9"/>
<line x1="384.80" y1="558.90" x2="391.60" y2="558.90" stroke="#ff2020" stroke-width="0.9"/>
<rect x="387.60" y="536.90" width="1.2" height="1.2" fill="#ff2020"/>
<rect x="387.60" y="573.50" width="1.2" height="1.2" fill="#ff2020"/>
<rect x="387.60" y="576.40" width="1.2" height="1.2" fill="#ff2020"/>
<line x1="401.60" y1="554.50" x2="401.60" y2="541.30" stroke="#000" stroke-width="0.8" stroke-dasharray="7.5,3.5"/>
<line x1="400.00" y1="541.30" x2="403.20" y2="541.30" stroke="#000" stroke-width="0.9"/>
<line x1="400.00" y1="578.50" x2="403.20" y2="578.50" stroke="#000" stroke-width="0.9"/>
<rect x="398.20" y="554.50" width="6.80" height="23.80" fill="none" stroke="#2020ff" stroke-width="0.9"/>
<line x1="398.20" y1="573.50" x2="405.00" y2="573.50" stroke="#ff2020" stroke-width="0.9"/>
<line x1="427.90" y1="598.20" x2="427.90" y2="606.90" stroke="#000" stroke-width="0.8" stroke-dasharray="7.5,3.5"/>
<line x1="426.30" y1="585.50" x2="429.50" y2="585.50" stroke="#000" stroke-width="0.9"/>
<line x1="426.30" y1="606.90" x2="429.50" y2="606.90" stroke="#000" stroke-width="0.9"/>
<rect x="424.50" y="586.00" width="6.80" height="12.20" fill="none" stroke="#2020ff" stroke-width="0.9"/>
<line x1="424.50" y1="588.30" x2="431.30" y2="588.30" stroke="#ff2020" stroke-width="0.9"/>
<line x1="441.20" y1="572.20" x2="441.20" y2="563.30" stroke="#000" stroke-width="0.8" stroke-dasharray="7.5,3.5"/>
<line x1="441.20" y1="584.50" x2="441.20" y2="587.40" stroke="#000" stroke-width="0.8" stroke-dasharray="7.5,3.5"/>
<line x1="439.60" y1="563.30" x2="442.80" y2="563.30" stroke="#000" stroke-width="0.9"/>
<line x1="439.60" y1="587.40" x2="442.80" y2="587.40" stroke="#000" stroke-width="0.9"/>
<rect x="437.80" y="572.20" width="6.80" height="12.30" fill="none" stroke="#2020ff" stroke-width="0.9"/>
<line x1="437.80" y1="581.70" x2="444.60" y2="581.70" stroke="#ff2020" stroke-width="0.9"/>
<line x1="454.10" y1="579.40" x2="454.10" y2="577.30" stroke="#000" stroke-width="0.8" stroke-dasharray="7.5,3.5"/>
<line x1="454.10" y1="598.20" x2="454.10" y2="600.10" stroke="#000" stroke-width="0.8" stroke-dasharray="7.5,3.5"/>
<line x1="452.50" y1="577.30" x2="455.70" y2="577.30" stroke="#000" stroke-width="0.9"/>
<line x1="452.50" y1="600.10" x2="455.70" y2="600.10" stroke="#000" stroke-width="0.9"/>
<rect x="450.70" y="579.40" width="6.80" height="18.80" fill="none" stroke="#2020ff" stroke-width="0.9"/>
<line x1="450.70" y1="585.50" x2="457.50" y2="585.50" stroke="#ff2020" stroke-width="0.9"/>
<line x1="467.40" y1="553.20" x2="467.40" y2="551.30" stroke="#000" stroke-width="0.8" stroke-dasharray="7.5,3.5"/>
<line x1="467.40" y1="574.50" x2="467.40" y2="579.20" stroke="#000" stroke-width="0.8" stroke-dasharray="7.5,3.5"/>
<line x1="465.80" y1="551.30" x2="469.00" y2="551.30" stroke="#000" stroke-width="0.9"/>
<line x1="465.80" y1="579.20" x2="469.00" y2="579.20" stroke="#000" stroke-width="0.9"/>
<rect x="464.00" y="553.20" width="6.80" height="21.30" fill="none" stroke="#2020ff" stroke-width="0.9"/>
<line x1="464.00" y1="559.50" x2="470.80" y2="559.50" stroke="#ff2020" stroke-width="0.9"/>
<line x1="480.90" y1="536.70" x2="480.90" y2="514.90" stroke="#000" stroke-width="0.8" stroke-dasharray="7.5,3.5"/>
<line x1="480.90" y1="583.60" x2="480.90" y2="610.10" stroke="#000" stroke-width="0.8" stroke-dasharray="7.5,3.5"/>
<line x1="479.30" y1="514.90" x2="482.50" y2="514.90" stroke="#000" stroke-width="0.9"/>
<line x1="479.30" y1="610.10" x2="482.50" y2="610.10" stroke="#000" stroke-width="0.9"/>
<rect x="477.50" y="536.70" width="6.80" height="46.90" fill="none" stroke="#2020ff" stroke-width="0.9"/>
<line x1="477.50" y1="576.40" x2="484.30" y2="576.40" stroke="#ff2020" stroke-width="0.9"/>
<line x1="507.00" y1="600.30" x2="507.00" y2="591.60" stroke="#000" stroke-width="0.8" stroke-dasharray="7.5,3.5"/>
<line x1="507.00" y1="609.80" x2="507.00" y2="621.20" stroke="#000" stroke-width="0.8" stroke-dasharray="7.5,3.5"/>
<line x1="505.40" y1="591.60" x2="508.60" y2="591.60" stroke="#000" stroke-width="0.9"/>
<line x1="505.40" y1="621.20" x2="508.60" y2="621.20" stroke="#000" stroke-width="0.9"/>
<rect x="503.60" y="600.30" width="6.80" height="9.50" fill="none" stroke="#2020ff" stroke-width="0.9"/>
<line x1="503.60" y1="605.10" x2="510.40" y2="605.10" stroke="#ff2020" stroke-width="0.9"/>
<line x1="520.10" y1="557.40" x2="520.10" y2="553.60" stroke="#000" stroke-width="0.8" stroke-dasharray="7.5,3.5"/>
<line x1="520.10" y1="568.00" x2="520.10" y2="577.00" stroke="#000" stroke-width="0.8" stroke-dasharray="7.5,3.5"/>
<line x1="518.50" y1="553.60" x2="521.70" y2="553.60" stroke="#000" stroke-width="0.9"/>
<line x1="518.50" y1="577.00" x2="521.70" y2="577.00" stroke="#000" stroke-width="0.9"/>
<rect x="516.70" y="557.40" width="6.80" height="10.60" fill="none" stroke="#2020ff" stroke-width="0.9"/>
<line x1="516.70" y1="563.30" x2="523.50" y2="563.30" stroke="#ff2020" stroke-width="0.9"/>
<line x1="533.50" y1="551.30" x2="533.50" y2="547.50" stroke="#000" stroke-width="0.8" stroke-dasharray="7.5,3.5"/>
<line x1="533.50" y1="569.40" x2="533.50" y2="573.20" stroke="#000" stroke-width="0.8" stroke-dasharray="7.5,3.5"/>
<line x1="531.90" y1="547.50" x2="535.10" y2="547.50" stroke="#000" stroke-width="0.9"/>
<line x1="531.90" y1="573.20" x2="535.10" y2="573.20" stroke="#000" stroke-width="0.9"/>
<rect x="530.10" y="551.30" width="6.80" height="18.10" fill="none" stroke="#2020ff" stroke-width="0.9"/>
<line x1="530.10" y1="563.30" x2="536.90" y2="563.30" stroke="#ff2020" stroke-width="0.9"/>
<line x1="546.70" y1="536.50" x2="546.70" y2="508.40" stroke="#000" stroke-width="0.8" stroke-dasharray="7.5,3.5"/>
<line x1="546.70" y1="555.50" x2="546.70" y2="577.90" stroke="#000" stroke-width="0.8" stroke-dasharray="7.5,3.5"/>
<line x1="545.10" y1="508.40" x2="548.30" y2="508.40" stroke="#000" stroke-width="0.9"/>
<line x1="545.10" y1="577.90" x2="548.30" y2="577.90" stroke="#000" stroke-width="0.9"/>
<rect x="543.30" y="536.50" width="6.80" height="19.00" fill="none" stroke="#2020ff" stroke-width="0.9"/>
<line x1="543.30" y1="548.50" x2="550.10" y2="548.50" stroke="#ff2020" stroke-width="0.9"/>
<rect x="546.10" y="488.60" width="1.2" height="1.2" fill="#ff2020"/>
<rect x="546.10" y="492.60" width="1.2" height="1.2" fill="#ff2020"/>
<rect x="546.10" y="504.90" width="1.2" height="1.2" fill="#ff2020"/>
<rect x="546.10" y="591.80" width="1.2" height="1.2" fill="#ff2020"/>
<line x1="560.00" y1="528.50" x2="560.00" y2="504.20" stroke="#000" stroke-width="0.8" stroke-dasharray="7.5,3.5"/>
<line x1="560.00" y1="556.40" x2="560.00" y2="586.50" stroke="#000" stroke-width="0.8" stroke-dasharray="7.5,3.5"/>
<line x1="558.40" y1="504.20" x2="561.60" y2="504.20" stroke="#000" stroke-width="0.9"/>
<line x1="558.40" y1="586.50" x2="561.60" y2="586.50" stroke="#000" stroke-width="0.9"/>
<rect x="556.60" y="528.50" width="6.80" height="27.90" fill="none" stroke="#2020ff" stroke-width="0.9"/>
<line x1="556.60" y1="536.10" x2="563.40" y2="536.10" stroke="#ff2020" stroke-width="0.9"/>
<rect x="559.40" y="597.80" width="1.2" height="1.2" fill="#ff2020"/>
<rect x="559.40" y="602.40" width="1.2" height="1.2" fill="#ff2020"/>
<line x1="586.40" y1="538.20" x2="586.40" y2="537.40" stroke="#000" stroke-width="0.8" stroke-dasharray="7.5,3.5"/>
<line x1="586.40" y1="551.00" x2="586.40" y2="554.50" stroke="#000" stroke-width="0.8" stroke-dasharray="7.5,3.5"/>
<line x1="584.80" y1="537.40" x2="588.00" y2="537.40" stroke="#000" stroke-width="0.9"/>
<line x1="584.80" y1="554.50" x2="588.00" y2="554.50" stroke="#000" stroke-width="0.9"/>
<rect x="583.00" y="538.20" width="6.80" height="12.80" fill="none" stroke="#2020ff" stroke-width="0.9"/>
<line x1="583.00" y1="541.10" x2="589.80" y2="541.10" stroke="#ff2020" stroke-width="0.9"/>
<line x1="599.70" y1="555.30" x2="599.70" y2="535.40" stroke="#000" stroke-width="0.8" stroke-dasharray="7.5,3.5"/>
<line x1="599.70" y1="569.00" x2="599.70" y2="579.00" stroke="#000" stroke-width="0.8" stroke-dasharray="7.5,3.5"/>
<line x1="598.10" y1="535.40" x2="601.30" y2="535.40" stroke="#000" stroke-width="0.9"/>
<line x1="598.10" y1="579.00" x2="601.30" y2="579.00" stroke="#000" stroke-width="0.9"/>
<rect x="596.30" y="555.30" width="6.80" height="13.70" fill="none" stroke="#2020ff" stroke-width="0.9"/>
<line x1="596.30" y1="559.60" x2="603.10" y2="559.60" stroke="#ff2020" stroke-width="0.9"/>
<line x1="611.30" y1="555.00" x2="614.50" y2="555.00" stroke="#000" stroke-width="0.9"/>
<line x1="611.30" y1="559.50" x2="614.50" y2="559.50" stroke="#000" stroke-width="0.9"/>
<rect x="609.50" y="555.30" width="6.80" height="3.70" fill="none" stroke="#2020ff" stroke-width="0.9"/>
<line x1="609.50" y1="557.00" x2="616.30" y2="557.00" stroke="#ff2020" stroke-width="0.9"/>
<line x1="626.20" y1="561.00" x2="626.20" y2="551.00" stroke="#000" stroke-width="0.8" stroke-dasharray="7.5,3.5"/>
<line x1="626.20" y1="590.90" x2="626.20" y2="595.20" stroke="#000" stroke-width="0.8" stroke-dasharray="7.5,3.5"/>
<line x1="624.60" y1="551.00" x2="627.80" y2="551.00" stroke="#000" stroke-width="0.9"/>
<line x1="624.60" y1="595.20" x2="627.80" y2="595.20" stroke="#000" stroke-width="0.9"/>
<rect x="622.80" y="561.00" width="6.80" height="29.90" fill="none" stroke="#2020ff" stroke-width="0.9"/>
<line x1="622.80" y1="589.50" x2="629.60" y2="589.50" stroke="#ff2020" stroke-width="0.9"/>
<line x1="639.30" y1="458.50" x2="639.30" y2="447.90" stroke="#000" stroke-width="0.8" stroke-dasharray="7.5,3.5"/>
<line x1="639.30" y1="491.20" x2="639.30" y2="526.30" stroke="#000" stroke-width="0.8" stroke-dasharray="7.5,3.5"/>
<line x1="637.70" y1="447.90" x2="640.90" y2="447.90" stroke="#000" stroke-width="0.9"/>
<line x1="637.70" y1="526.30" x2="640.90" y2="526.30" stroke="#000" stroke-width="0.9"/>
<rect x="635.90" y="458.50" width="6.80" height="32.70" fill="none" stroke="#2020ff" stroke-width="0.9"/>
<line x1="635.90" y1="472.20" x2="642.70" y2="472.20" stroke="#ff2020" stroke-width="0.9"/>
<rect x="638.70" y="544.80" width="1.2" height="1.2" fill="#ff2020"/>
<rect x="638.70" y="552.70" width="1.2" height="1.2" fill="#ff2020"/>
<line x1="95.90" y1="559.60" x2="110.00" y2="559.60" stroke="#777" stroke-width="1.1"/>
<polygon points="103.40,553.20 104.02,554.85 105.78,554.93 104.40,556.02 104.87,557.72 103.40,556.75 101.93,557.72 102.40,556.02 101.02,554.93 102.78,554.85" fill="#111"/>
<line x1="162.60" y1="557.90" x2="176.60" y2="557.90" stroke="#777" stroke-width="1.1"/>
<polygon points="170.30,550.90 170.92,552.55 172.68,552.63 171.30,553.72 171.77,555.42 170.30,554.45 168.83,555.42 169.30,553.72 167.92,552.63 169.68,552.55" fill="#111"/>
<line x1="214.30" y1="582.60" x2="229.10" y2="582.60" stroke="#777" stroke-width="1.1"/>
<polygon points="219.40,575.70 220.02,577.35 221.78,577.43 220.40,578.52 220.87,580.22 219.40,579.25 217.93,580.22 218.40,578.52 217.02,577.43 218.78,577.35" fill="#111"/>
<polygon points="224.20,575.70 224.82,577.35 226.58,577.43 225.20,578.52 225.67,580.22 224.20,579.25 222.73,580.22 223.20,578.52 221.82,577.43 223.58,577.35" fill="#111"/>
<line x1="243.10" y1="528.60" x2="256.90" y2="528.60" stroke="#777" stroke-width="1.1"/>
<polygon points="248.10,522.00 248.72,523.65 250.48,523.73 249.10,524.82 249.57,526.52 248.10,525.55 246.63,526.52 247.10,524.82 245.72,523.73 247.48,523.65" fill="#111"/>
<polygon points="252.90,522.00 253.52,523.65 255.28,523.73 253.90,524.82 254.37,526.52 252.90,525.55 251.43,526.52 251.90,524.82 250.52,523.73 252.28,523.65" fill="#111"/>
<line x1="334.60" y1="538.70" x2="348.70" y2="538.70" stroke="#777" stroke-width="1.1"/>
<polygon points="339.70,532.30 340.32,533.95 342.08,534.03 340.70,535.12 341.17,536.82 339.70,535.85 338.23,536.82 338.70,535.12 337.32,534.03 339.08,533.95" fill="#111"/>
<polygon points="344.50,532.30 345.12,533.95 346.88,534.03 345.50,535.12 345.97,536.82 344.50,535.85 343.03,536.82 343.50,535.12 342.12,534.03 343.88,533.95" fill="#111"/>
<line x1="427.50" y1="556.10" x2="441.70" y2="556.10" stroke="#777" stroke-width="1.1"/>
<polygon points="432.10,549.10 432.72,550.75 434.48,550.83 433.10,551.92 433.57,553.62 432.10,552.65 430.63,553.62 431.10,551.92 429.72,550.83 431.48,550.75" fill="#111"/>
<polygon points="436.90,549.10 437.52,550.75 439.28,550.83 437.90,551.92 438.37,553.62 436.90,552.65 435.43,553.62 435.90,551.92 434.52,550.83 436.28,550.75" fill="#111"/>
<line x1="505.80" y1="543.70" x2="519.70" y2="543.70" stroke="#777" stroke-width="1.1"/>
<polygon points="510.30,537.10 510.92,538.75 512.68,538.83 511.30,539.92 511.77,541.62 510.30,540.65 508.83,541.62 509.30,539.92 507.92,538.83 509.68,538.75" fill="#111"/>
<polygon points="515.10,537.10 515.72,538.75 517.48,538.83 516.10,539.92 516.57,541.62 515.10,540.65 513.63,541.62 514.10,539.92 512.72,538.83 514.48,538.75" fill="#111"/>
<line x1="545.40" y1="481.80" x2="567.70" y2="481.80" stroke="#777" stroke-width="1.1"/>
<polygon points="553.60,475.60 554.22,477.25 555.98,477.33 554.60,478.42 555.07,480.12 553.60,479.15 552.13,480.12 552.60,478.42 551.22,477.33 552.98,477.25" fill="#111"/>
<line x1="585.70" y1="522.60" x2="599.30" y2="522.60" stroke="#777" stroke-width="1.1"/>
<polygon points="592.80,516.10 593.42,517.75 595.18,517.83 593.80,518.92 594.27,520.62 592.80,519.65 591.33,520.62 591.80,518.92 590.42,517.83 592.18,517.75" fill="#111"/>
<line x1="625.50" y1="447.70" x2="639.80" y2="447.70" stroke="#777" stroke-width="1.1"/>
<polygon points="630.80,440.60 631.42,442.25 633.18,442.33 631.80,443.42 632.27,445.12 630.80,444.15 629.33,445.12 629.80,443.42 628.42,442.33 630.18,442.25" fill="#111"/>
<polygon points="635.60,440.60 636.22,442.25 637.98,442.33 636.60,443.42 637.07,445.12 635.60,444.15 634.13,445.12 634.60,443.42 633.22,442.33 634.98,442.25" fill="#111"/>
<text x="191.40" y="432.40" font-family='"Liberation Sans", sans-serif' font-size="13.5" font-weight="bold" font-style="normal" text-anchor="start" fill="#000">Domain</text>
<text x="469.60" y="432.40" font-family='"Liberation Sans", sans-serif' font-size="13.7" font-weight="bold" font-style="normal" text-anchor="start" fill="#000">Domain family</text>
<text transform="translate(45.80,532.40) rotate(-90)" font-family='"Liberation Sans", sans-serif' font-size="11.8" font-weight="normal" text-anchor="middle" fill="#000" textLength="178.5" lengthAdjust="spacingAndGlyphs">Percentage of IDDs (DSDR &gt; 30% )</text>
<text transform="translate(59.50,532.50) rotate(-90)" font-family='"Liberation Sans", sans-serif' font-size="11.8" font-weight="normal" text-anchor="middle" fill="#000" textLength="101" lengthAdjust="spacingAndGlyphs">in each species (%)</text>
<text transform="translate(95.90,640.30) rotate(72.6)" font-family='"Liberation Serif", serif' font-size="9.4" font-weight="bold" text-anchor="start" fill="#000">Streptophyta (38)</text>
<text transform="translate(109.20,640.30) rotate(72.6)" font-family='"Liberation Serif", serif' font-size="9.4" font-weight="bold" text-anchor="start" fill="#000">Chlorophyta (4)</text>
<text transform="translate(135.60,640.30) rotate(72.6)" font-family='"Liberation Serif", serif' font-size="9.4" font-weight="bold" text-anchor="start" fill="#000">Oligohym... (4)</text>
<text transform="translate(148.70,640.30) rotate(72.6)" font-family='"Liberation Serif", serif' font-size="9.4" font-weight="bold" text-anchor="start" fill="#000">Oomycetes (11)</text>
<text transform="translate(162.10,640.30) rotate(72.6)" font-family='"Liberation Serif", serif' font-size="9.4" font-weight="bold" text-anchor="start" fill="#000">Kinetoplastida (7)</text>
<text transform="translate(175.10,640.30) rotate(72.6)" font-family='"Liberation Serif", serif' font-size="9.4" font-weight="bold" text-anchor="start" fill="#000">Bacillariophyta (3)</text>
<text transform="translate(188.40,640.30) rotate(72.6)" font-family='"Liberation Serif", serif' font-size="9.4" font-weight="bold" text-anchor="start" fill="#000">Apicomplexa (10)</text>
<text transform="translate(214.60,640.30) rotate(72.6)" font-family='"Liberation Serif", serif' font-size="9.4" font-weight="bold" text-anchor="start" fill="#000">Microsporidia (14)</text>
<text transform="translate(228.00,640.30) rotate(72.6)" font-family='"Liberation Serif", serif' font-size="9.4" font-weight="bold" text-anchor="start" fill="#000">Chytridiomycota (7)</text>
<text transform="translate(241.50,640.30) rotate(72.6)" font-family='"Liberation Serif", serif' font-size="9.4" font-weight="bold" text-anchor="start" fill="#000">Mucoromycota (11)</text>
<text transform="translate(254.40,640.30) rotate(72.6)" font-family='"Liberation Serif", serif' font-size="9.4" font-weight="bold" text-anchor="start" fill="#000">Basidiomycota (89)</text>
<text transform="translate(267.60,640.30) rotate(72.6)" font-family='"Liberation Serif", serif' font-size="9.4" font-weight="bold" text-anchor="start" fill="#000">Ascomycota (177)</text>
<text transform="translate(294.00,640.30) rotate(72.6)" font-family='"Liberation Serif", serif' font-size="9.4" font-weight="bold" text-anchor="start" fill="#000">Mollusca (3)</text>
<text transform="translate(307.40,640.30) rotate(72.6)" font-family='"Liberation Serif", serif' font-size="9.4" font-weight="bold" text-anchor="start" fill="#000">Arthropoda (36)</text>
<text transform="translate(320.50,640.30) rotate(72.6)" font-family='"Liberation Serif", serif' font-size="9.4" font-weight="bold" text-anchor="start" fill="#000">Tardigrada (2)</text>
<text transform="translate(333.60,640.30) rotate(72.6)" font-family='"Liberation Serif", serif' font-size="9.4" font-weight="bold" text-anchor="start" fill="#000">Nematoda (7)</text>
<text transform="translate(346.70,640.30) rotate(72.6)" font-family='"Liberation Serif", serif' font-size="9.4" font-weight="bold" text-anchor="start" fill="#000">Chordata (77)</text>
<text transform="translate(386.60,640.30) rotate(72.6)" font-family='"Liberation Serif", serif' font-size="9.4" font-weight="bold" text-anchor="start" fill="#000">Streptophyta (38)</text>
<text transform="translate(400.00,640.30) rotate(72.6)" font-family='"Liberation Serif", serif' font-size="9.4" font-weight="bold" text-anchor="start" fill="#000">Chlorophyta (4)</text>
<text transform="translate(426.30,640.30) rotate(72.6)" font-family='"Liberation Serif", serif' font-size="9.4" font-weight="bold" text-anchor="start" fill="#000">Oligohym... (4)</text>
<text transform="translate(439.60,640.30) rotate(72.6)" font-family='"Liberation Serif", serif' font-size="9.4" font-weight="bold" text-anchor="start" fill="#000">Oomycetes (11)</text>
<text transform="translate(452.50,640.30) rotate(72.6)" font-family='"Liberation Serif", serif' font-size="9.4" font-weight="bold" text-anchor="start" fill="#000">Kinetoplastida (7)</text>
<text transform="translate(465.80,640.30) rotate(72.6)" font-family='"Liberation Serif", serif' font-size="9.4" font-weight="bold" text-anchor="start" fill="#000">Bacillariophyta (3)</text>
<text transform="translate(479.30,640.30) rotate(72.6)" font-family='"Liberation Serif", serif' font-size="9.4" font-weight="bold" text-anchor="start" fill="#000">Apicomplexa (10)</text>
<text transform="translate(505.40,640.30) rotate(72.6)" font-family='"Liberation Serif", serif' font-size="9.4" font-weight="bold" text-anchor="start" fill="#000">Microsporidia (14)</text>
<text transform="translate(518.50,640.30) rotate(72.6)" font-family='"Liberation Serif", serif' font-size="9.4" font-weight="bold" text-anchor="start" fill="#000">Chytridiomycota (7)</text>
<text transform="translate(531.90,640.30) rotate(72.6)" font-family='"Liberation Serif", serif' font-size="9.4" font-weight="bold" text-anchor="start" fill="#000">Mucoromycota (11)</text>
<text transform="translate(545.10,640.30) rotate(72.6)" font-family='"Liberation Serif", serif' font-size="9.4" font-weight="bold" text-anchor="start" fill="#000">Basidiomycota (89)</text>
<text transform="translate(558.40,640.30) rotate(72.6)" font-family='"Liberation Serif", serif' font-size="9.4" font-weight="bold" text-anchor="start" fill="#000">Ascomycota (177)</text>
<text transform="translate(584.80,640.30) rotate(72.6)" font-family='"Liberation Serif", serif' font-size="9.4" font-weight="bold" text-anchor="start" fill="#000">Mollusca (3)</text>
<text transform="translate(598.10,640.30) rotate(72.6)" font-family='"Liberation Serif", serif' font-size="9.4" font-weight="bold" text-anchor="start" fill="#000">Arthropoda (36)</text>
<text transform="translate(611.30,640.30) rotate(72.6)" font-family='"Liberation Serif", serif' font-size="9.4" font-weight="bold" text-anchor="start" fill="#000">Tardigrada (2)</text>
<text transform="translate(624.60,640.30) rotate(72.6)" font-family='"Liberation Serif", serif' font-size="9.4" font-weight="bold" text-anchor="start" fill="#000">Nematoda (7)</text>
<text transform="translate(637.70,640.30) rotate(72.6)" font-family='"Liberation Serif", serif' font-size="9.4" font-weight="bold" text-anchor="start" fill="#000">Chordata (77)</text>
<line x1="120.50" y1="720.10" x2="145.00" y2="720.10" stroke="#444" stroke-width="0.9"/>
<text x="131.70" y="734.00" font-family='"Liberation Serif", serif' font-size="12" font-weight="bold" font-style="normal" text-anchor="middle" fill="#000">Plant</text>
<line x1="162.60" y1="720.10" x2="228.70" y2="720.10" stroke="#444" stroke-width="0.9"/>
<text x="198.30" y="734.00" font-family='"Liberation Serif", serif' font-size="12" font-weight="bold" font-style="normal" text-anchor="middle" fill="#000">Protozoa</text>
<line x1="240.00" y1="720.10" x2="309.00" y2="720.10" stroke="#444" stroke-width="0.9"/>
<text x="273.60" y="734.00" font-family='"Liberation Serif", serif' font-size="12" font-weight="bold" font-style="normal" text-anchor="middle" fill="#000">Fungi</text>
<line x1="323.50" y1="720.10" x2="378.70" y2="720.10" stroke="#444" stroke-width="0.9"/>
<text x="351.60" y="734.00" font-family='"Liberation Serif", serif' font-size="12" font-weight="bold" font-style="normal" text-anchor="middle" fill="#000">Metazoa</text>
<line x1="413.20" y1="720.10" x2="437.70" y2="720.10" stroke="#444" stroke-width="0.9"/>
<text x="425.40" y="734.00" font-family='"Liberation Serif", serif' font-size="12" font-weight="bold" font-style="normal" text-anchor="middle" fill="#000">Plant</text>
<line x1="455.30" y1="720.10" x2="521.80" y2="720.10" stroke="#444" stroke-width="0.9"/>
<text x="490.80" y="734.00" font-family='"Liberation Serif", serif' font-size="12" font-weight="bold" font-style="normal" text-anchor="middle" fill="#000">Protozoa</text>
<line x1="533.40" y1="720.10" x2="601.70" y2="720.10" stroke="#444" stroke-width="0.9"/>
<text x="566.00" y="734.00" font-family='"Liberation Serif", serif' font-size="12" font-weight="bold" font-style="normal" text-anchor="middle" fill="#000">Fungi</text>
<line x1="616.70" y1="720.10" x2="671.80" y2="720.10" stroke="#444" stroke-width="0.9"/>
<text x="643.70" y="734.00" font-family='"Liberation Serif", serif' font-size="12" font-weight="bold" font-style="normal" text-anchor="middle" fill="#000">Metazoa</text>
</svg></body></html>
